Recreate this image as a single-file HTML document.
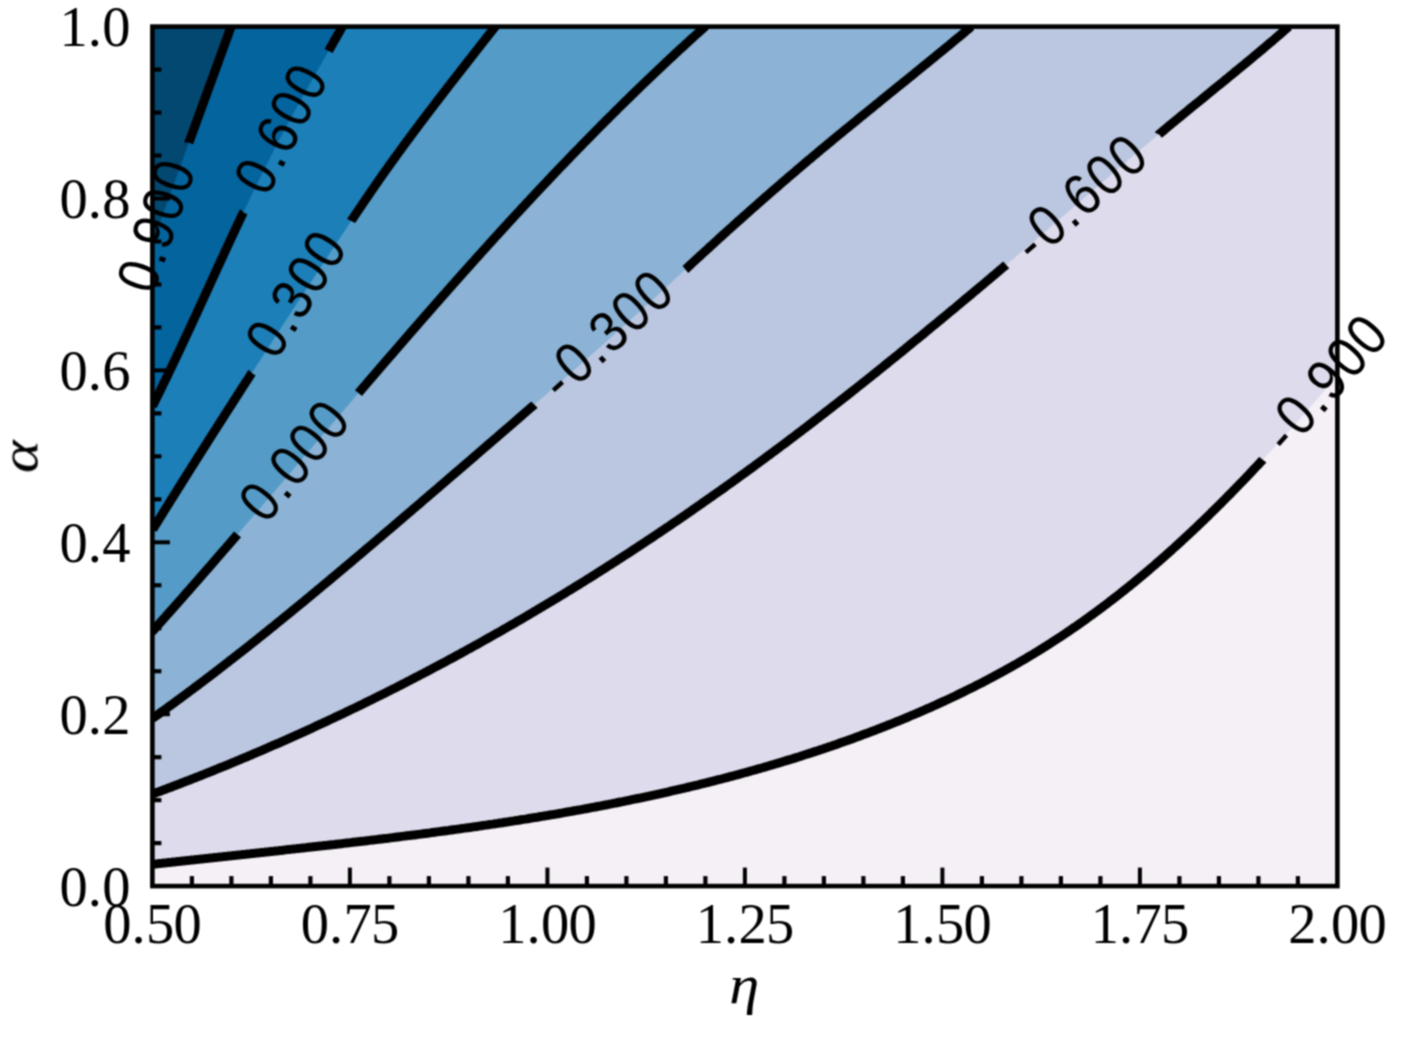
<!DOCTYPE html><html><head><meta charset="utf-8"><style>html,body{margin:0;padding:0;background:#fff;overflow:hidden;width:1402px;height:1040px;}svg{display:block;}</style></head><body>
<svg width="1402" height="1040" viewBox="0 0 1402 1040">
<defs><clipPath id="pc"><rect x="152.40" y="26.60" width="1185.00" height="859.50"/></clipPath><filter id="soft" x="0" y="0" width="1402" height="1040" filterUnits="userSpaceOnUse" color-interpolation-filters="sRGB"><feConvolveMatrix order="3" kernelMatrix="1 2.000 1 2.000 4.000 2.000 1 2.000 1" edgeMode="duplicate"/></filter></defs>
<g filter="url(#soft)">
<rect width="1402" height="1040" fill="#fff"/>
<g clip-path="url(#pc)">
<rect x="152.4" y="26.6" width="1185.0" height="859.5" fill="#f5eff6"/>
<polygon points="152.4,864.2 152.8,864.2 155.1,863.9 157.4,863.7 159.7,863.4 162.0,863.2 164.3,862.9 166.7,862.7 169.0,862.4 171.3,862.2 173.6,861.9 175.9,861.7 178.2,861.4 180.6,861.2 182.9,860.9 185.2,860.7 187.5,860.4 189.8,860.2 192.2,859.9 194.5,859.7 196.8,859.4 199.1,859.2 201.5,858.9 203.8,858.7 206.1,858.4 208.4,858.2 210.8,857.9 213.1,857.7 215.4,857.4 217.7,857.2 220.1,856.9 222.4,856.7 224.7,856.4 227.0,856.2 229.4,855.9 231.7,855.7 234.0,855.4 236.3,855.2 238.7,854.9 241.0,854.7 243.3,854.4 245.7,854.2 248.0,853.9 250.3,853.7 252.7,853.4 255.0,853.2 257.3,852.9 259.6,852.7 262.0,852.4 264.3,852.2 266.6,851.9 269.0,851.7 271.3,851.4 273.6,851.2 276.0,850.9 278.3,850.7 280.6,850.4 283.0,850.2 285.3,849.9 287.6,849.6 290.0,849.4 292.3,849.1 294.6,848.9 297.0,848.6 299.3,848.4 301.6,848.1 304.0,847.9 306.3,847.6 308.6,847.3 311.0,847.1 313.3,846.8 315.7,846.6 318.0,846.3 320.3,846.0 322.7,845.8 325.0,845.5 327.3,845.3 329.7,845.0 332.0,844.7 334.3,844.5 336.7,844.2 339.0,843.9 341.3,843.7 343.7,843.4 346.0,843.1 348.4,842.9 350.7,842.6 353.0,842.3 355.4,842.1 357.7,841.8 360.0,841.5 362.4,841.2 364.7,841.0 367.0,840.7 369.4,840.4 371.7,840.1 374.1,839.9 376.4,839.6 378.7,839.3 381.1,839.0 383.4,838.7 385.7,838.4 388.1,838.2 390.4,837.9 392.7,837.6 395.1,837.3 397.4,837.0 399.7,836.7 402.1,836.4 404.4,836.1 406.8,835.8 409.1,835.6 411.4,835.3 413.8,835.0 416.1,834.7 418.4,834.4 420.8,834.1 423.1,833.8 425.4,833.5 427.8,833.2 430.1,832.9 432.4,832.5 434.8,832.2 437.1,831.9 439.4,831.6 441.8,831.3 444.1,831.0 446.4,830.7 448.8,830.4 451.1,830.0 453.4,829.7 455.8,829.4 458.1,829.1 460.4,828.8 462.8,828.4 465.1,828.1 467.4,827.8 469.8,827.5 472.1,827.1 474.4,826.8 476.7,826.5 479.1,826.1 481.4,825.8 483.7,825.4 486.1,825.1 488.4,824.8 490.7,824.4 493.0,824.1 495.4,823.7 497.7,823.4 500.0,823.0 502.3,822.7 504.7,822.3 507.0,822.0 509.3,821.6 511.6,821.2 514.0,820.9 516.3,820.5 518.6,820.2 520.9,819.8 523.3,819.4 525.6,819.1 527.9,818.7 530.2,818.3 532.6,817.9 534.9,817.5 537.2,817.2 539.5,816.8 541.8,816.4 544.2,816.0 546.5,815.6 548.8,815.2 551.1,814.8 553.4,814.5 555.7,814.1 558.1,813.7 560.4,813.3 562.7,812.9 565.0,812.4 567.3,812.0 569.6,811.6 572.0,811.2 574.3,810.8 576.6,810.4 578.9,810.0 581.2,809.6 583.5,809.1 585.8,808.7 588.1,808.3 590.4,807.8 592.8,807.4 595.1,807.0 597.4,806.5 599.7,806.1 602.0,805.7 604.3,805.2 606.6,804.8 608.9,804.3 611.2,803.9 613.5,803.4 615.8,803.0 618.1,802.5 620.4,802.0 622.7,801.6 625.0,801.1 627.3,800.6 629.6,800.2 631.9,799.7 634.2,799.2 636.5,798.7 638.8,798.3 641.1,797.8 643.4,797.3 645.7,796.8 648.0,796.3 650.3,795.8 652.6,795.3 654.9,794.8 657.2,794.3 659.5,793.8 661.7,793.3 664.0,792.8 666.3,792.3 668.6,791.8 670.9,791.2 673.2,790.7 675.5,790.2 677.8,789.7 680.0,789.1 682.3,788.6 684.6,788.1 686.9,787.5 689.2,787.0 691.4,786.4 693.7,785.9 696.0,785.3 698.3,784.8 700.6,784.2 702.8,783.7 705.1,783.1 707.4,782.5 709.7,782.0 711.9,781.4 714.2,780.8 716.5,780.2 718.7,779.6 721.0,779.1 723.3,778.5 725.6,777.9 727.8,777.3 730.1,776.7 732.4,776.1 734.6,775.5 736.9,774.9 739.1,774.3 741.4,773.6 743.7,773.0 745.9,772.4 748.2,771.8 750.4,771.1 752.7,770.5 755.0,769.9 757.2,769.2 759.5,768.6 761.7,768.0 764.0,767.3 766.2,766.7 768.5,766.0 770.7,765.3 773.0,764.7 775.2,764.0 777.5,763.3 779.7,762.7 781.9,762.0 784.2,761.3 786.4,760.6 788.7,759.9 790.9,759.3 793.2,758.6 795.4,757.9 797.6,757.2 799.9,756.5 802.1,755.7 804.3,755.0 806.6,754.3 808.8,753.6 811.0,752.9 813.3,752.1 815.5,751.4 817.7,750.7 819.9,749.9 822.2,749.2 824.4,748.4 826.6,747.7 828.8,746.9 831.1,746.2 833.3,745.4 835.5,744.7 837.7,743.9 839.9,743.1 842.1,742.3 844.4,741.5 846.6,740.8 848.8,740.0 851.0,739.2 853.2,738.4 855.4,737.6 857.6,736.8 859.8,736.0 862.0,735.1 864.2,734.3 866.4,733.5 868.6,732.7 870.8,731.8 873.0,731.0 875.2,730.2 877.4,729.3 879.6,728.5 881.8,727.6 884.0,726.8 886.2,725.9 888.3,725.0 890.5,724.2 892.7,723.3 894.9,722.4 897.1,721.5 899.3,720.7 901.4,719.8 903.6,718.9 905.8,718.0 907.9,717.1 910.1,716.1 912.3,715.2 914.4,714.3 916.6,713.4 918.8,712.5 920.9,711.5 923.1,710.6 925.2,709.7 927.4,708.7 929.5,707.8 931.7,706.8 933.8,705.8 936.0,704.9 938.1,703.9 940.2,702.9 942.4,701.9 944.5,701.0 946.6,700.0 948.8,699.0 950.9,698.0 953.0,697.0 955.2,696.0 957.3,694.9 959.4,693.9 961.5,692.9 963.6,691.9 965.7,690.8 967.8,689.8 969.9,688.8 972.0,687.7 974.1,686.7 976.2,685.6 978.3,684.5 980.4,683.5 982.5,682.4 984.6,681.3 986.7,680.2 988.7,679.1 990.8,678.0 992.9,676.9 994.9,675.8 997.0,674.7 999.1,673.6 1001.1,672.5 1003.2,671.3 1005.2,670.2 1007.3,669.1 1009.3,667.9 1011.4,666.8 1013.4,665.6 1015.5,664.5 1017.5,663.3 1019.5,662.1 1021.6,660.9 1023.6,659.8 1025.6,658.6 1027.6,657.4 1029.6,656.2 1031.6,655.0 1033.7,653.8 1035.7,652.5 1037.7,651.3 1039.6,650.1 1041.6,648.9 1043.6,647.6 1045.6,646.4 1047.6,645.1 1049.6,643.9 1051.5,642.6 1053.5,641.3 1055.5,640.0 1057.4,638.8 1059.4,637.5 1061.4,636.2 1063.3,634.9 1065.3,633.6 1067.2,632.3 1069.1,631.0 1071.1,629.6 1073.0,628.3 1074.9,627.0 1076.9,625.7 1078.8,624.3 1080.7,623.0 1082.6,621.6 1084.5,620.3 1086.4,618.9 1088.3,617.5 1090.2,616.1 1092.1,614.8 1094.0,613.4 1095.9,612.0 1097.8,610.6 1099.7,609.2 1101.6,607.8 1103.4,606.4 1105.3,605.0 1107.2,603.6 1109.0,602.1 1110.9,600.7 1112.8,599.3 1114.6,597.8 1116.5,596.4 1118.3,595.0 1120.2,593.5 1122.0,592.0 1123.8,590.6 1125.7,589.1 1127.5,587.6 1129.3,586.2 1131.1,584.7 1133.0,583.2 1134.8,581.7 1136.6,580.2 1138.4,578.7 1140.2,577.2 1142.0,575.7 1143.8,574.2 1145.6,572.7 1147.4,571.2 1149.2,569.7 1151.0,568.1 1152.8,566.6 1154.6,565.1 1156.3,563.5 1158.1,562.0 1159.9,560.5 1161.7,558.9 1163.4,557.4 1165.2,555.8 1166.9,554.2 1168.7,552.7 1170.5,551.1 1172.2,549.5 1173.9,548.0 1175.7,546.4 1177.4,544.8 1179.2,543.2 1180.9,541.6 1182.6,540.0 1184.4,538.4 1186.1,536.8 1187.8,535.2 1189.5,533.6 1191.3,532.0 1193.0,530.4 1194.7,528.8 1196.4,527.2 1198.1,525.5 1199.8,523.9 1201.5,522.3 1203.2,520.7 1204.9,519.0 1206.6,517.4 1208.3,515.7 1209.9,514.1 1211.6,512.4 1213.3,510.8 1215.0,509.1 1216.7,507.5 1218.3,505.8 1220.0,504.2 1221.7,502.5 1223.3,500.8 1225.0,499.2 1226.6,497.5 1228.3,495.8 1229.9,494.2 1231.6,492.5 1233.2,490.8 1234.9,489.1 1236.5,487.4 1238.2,485.7 1239.8,484.0 1241.4,482.4 1243.1,480.7 1244.7,479.0 1246.3,477.3 1247.9,475.6 1249.6,473.9 1251.2,472.1 1252.8,470.4 1254.4,468.7 1256.0,467.0 1257.6,465.3 1259.2,463.6 1260.8,461.9 1262.5,460.1 1264.1,458.4 1265.7,456.7 1267.2,455.0 1268.8,453.2 1270.4,451.5 1272.0,449.8 1273.6,448.1 1275.2,446.3 1276.8,444.6 1278.4,442.9 1279.9,441.1 1281.5,439.4 1283.1,437.6 1284.7,435.9 1286.2,434.1 1287.8,432.4 1289.4,430.7 1290.9,428.9 1292.5,427.2 1294.1,425.4 1295.6,423.7 1297.2,421.9 1298.7,420.2 1300.3,418.4 1301.8,416.6 1303.4,414.9 1304.9,413.1 1306.5,411.4 1308.0,409.6 1309.6,407.9 1311.1,406.1 1312.7,404.3 1314.2,402.6 1315.7,400.8 1317.3,399.0 1318.8,397.3 1320.3,395.5 1321.9,393.8 1323.4,392.0 1324.9,390.2 1326.4,388.5 1328.0,386.7 1329.5,384.9 1331.0,383.2 1332.5,381.4 1334.0,379.6 1335.6,377.8 1337.1,376.1 1337.4,375.7 1337.4,26.6 152.4,26.6" fill="#dedcec"/>
<polygon points="152.4,794.1 152.6,794.0 154.9,793.2 157.2,792.3 159.5,791.5 161.8,790.6 164.0,789.7 166.3,788.9 168.6,788.0 170.9,787.2 173.2,786.3 175.5,785.4 177.7,784.6 180.0,783.7 182.3,782.8 184.6,781.9 186.8,781.0 189.1,780.2 191.4,779.3 193.7,778.4 195.9,777.5 198.2,776.6 200.5,775.7 202.7,774.8 205.0,773.9 207.3,773.0 209.5,772.1 211.8,771.2 214.1,770.3 216.3,769.4 218.6,768.4 220.8,767.5 223.1,766.6 225.4,765.7 227.6,764.8 229.9,763.8 232.1,762.9 234.4,762.0 236.6,761.0 238.9,760.1 241.2,759.1 243.4,758.2 245.7,757.3 247.9,756.3 250.2,755.4 252.4,754.4 254.6,753.4 256.9,752.5 259.1,751.5 261.4,750.6 263.6,749.6 265.9,748.6 268.1,747.7 270.3,746.7 272.6,745.7 274.8,744.7 277.1,743.8 279.3,742.8 281.5,741.8 283.8,740.8 286.0,739.8 288.2,738.8 290.4,737.8 292.7,736.8 294.9,735.8 297.1,734.8 299.4,733.8 301.6,732.8 303.8,731.8 306.0,730.8 308.2,729.8 310.5,728.8 312.7,727.8 314.9,726.7 317.1,725.7 319.3,724.7 321.6,723.7 323.8,722.6 326.0,721.6 328.2,720.6 330.4,719.5 332.6,718.5 334.8,717.4 337.0,716.4 339.2,715.4 341.4,714.3 343.7,713.3 345.9,712.2 348.1,711.2 350.3,710.1 352.5,709.0 354.7,708.0 356.9,706.9 359.1,705.8 361.3,704.8 363.5,703.7 365.6,702.6 367.8,701.6 370.0,700.5 372.2,699.4 374.4,698.3 376.6,697.2 378.8,696.1 381.0,695.1 383.2,694.0 385.3,692.9 387.5,691.8 389.7,690.7 391.9,689.6 394.1,688.5 396.3,687.4 398.4,686.3 400.6,685.2 402.8,684.0 405.0,682.9 407.1,681.8 409.3,680.7 411.5,679.6 413.6,678.5 415.8,677.3 418.0,676.2 420.1,675.1 422.3,673.9 424.5,672.8 426.6,671.7 428.8,670.5 431.0,669.4 433.1,668.2 435.3,667.1 437.4,666.0 439.6,664.8 441.7,663.7 443.9,662.5 446.1,661.4 448.2,660.2 450.4,659.0 452.5,657.9 454.7,656.7 456.8,655.5 458.9,654.4 461.1,653.2 463.2,652.0 465.4,650.9 467.5,649.7 469.7,648.5 471.8,647.3 473.9,646.1 476.1,645.0 478.2,643.8 480.3,642.6 482.5,641.4 484.6,640.2 486.7,639.0 488.9,637.8 491.0,636.6 493.1,635.4 495.2,634.2 497.4,633.0 499.5,631.8 501.6,630.6 503.7,629.3 505.9,628.1 508.0,626.9 510.1,625.7 512.2,624.5 514.3,623.3 516.4,622.0 518.6,620.8 520.7,619.6 522.8,618.3 524.9,617.1 527.0,615.9 529.1,614.6 531.2,613.4 533.3,612.2 535.4,610.9 537.5,609.7 539.6,608.4 541.7,607.2 543.8,605.9 545.9,604.7 548.0,603.4 550.1,602.2 552.2,600.9 554.3,599.6 556.4,598.4 558.5,597.1 560.5,595.8 562.6,594.6 564.7,593.3 566.8,592.0 568.9,590.7 571.0,589.5 573.0,588.2 575.1,586.9 577.2,585.6 579.3,584.3 581.4,583.0 583.4,581.8 585.5,580.5 587.6,579.2 589.6,577.9 591.7,576.6 593.8,575.3 595.8,574.0 597.9,572.7 600.0,571.4 602.0,570.1 604.1,568.8 606.2,567.4 608.2,566.1 610.3,564.8 612.3,563.5 614.4,562.2 616.4,560.9 618.5,559.5 620.5,558.2 622.6,556.9 624.6,555.6 626.7,554.2 628.7,552.9 630.8,551.6 632.8,550.2 634.9,548.9 636.9,547.6 638.9,546.2 641.0,544.9 643.0,543.5 645.0,542.2 647.1,540.8 649.1,539.5 651.1,538.1 653.2,536.8 655.2,535.4 657.2,534.1 659.3,532.7 661.3,531.3 663.3,530.0 665.3,528.6 667.4,527.2 669.4,525.9 671.4,524.5 673.4,523.1 675.4,521.8 677.5,520.4 679.5,519.0 681.5,517.6 683.5,516.2 685.5,514.9 687.5,513.5 689.5,512.1 691.5,510.7 693.5,509.3 695.5,507.9 697.5,506.5 699.5,505.1 701.5,503.7 703.5,502.3 705.5,500.9 707.5,499.5 709.5,498.1 711.5,496.7 713.5,495.3 715.5,493.9 717.5,492.5 719.5,491.1 721.5,489.7 723.5,488.3 725.5,486.8 727.5,485.4 729.4,484.0 731.4,482.6 733.4,481.2 735.4,479.7 737.4,478.3 739.3,476.9 741.3,475.4 743.3,474.0 745.3,472.6 747.3,471.1 749.2,469.7 751.2,468.3 753.2,466.8 755.1,465.4 757.1,463.9 759.1,462.5 761.0,461.0 763.0,459.6 765.0,458.1 766.9,456.7 768.9,455.2 770.9,453.8 772.8,452.3 774.8,450.9 776.7,449.4 778.7,448.0 780.6,446.5 782.6,445.0 784.6,443.6 786.5,442.1 788.5,440.6 790.4,439.2 792.4,437.7 794.3,436.2 796.2,434.7 798.2,433.3 800.1,431.8 802.1,430.3 804.0,428.8 806.0,427.3 807.9,425.9 809.8,424.4 811.8,422.9 813.7,421.4 815.6,419.9 817.6,418.4 819.5,416.9 821.4,415.4 823.4,413.9 825.3,412.4 827.2,410.9 829.2,409.4 831.1,407.9 833.0,406.4 834.9,404.9 836.9,403.4 838.8,401.9 840.7,400.4 842.6,398.9 844.6,397.4 846.5,395.9 848.4,394.4 850.3,392.9 852.2,391.4 854.1,389.8 856.1,388.3 858.0,386.8 859.9,385.3 861.8,383.8 863.7,382.2 865.6,380.7 867.5,379.2 869.4,377.7 871.3,376.2 873.2,374.6 875.2,373.1 877.1,371.6 879.0,370.0 880.9,368.5 882.8,367.0 884.7,365.4 886.6,363.9 888.5,362.4 890.4,360.8 892.3,359.3 894.2,357.8 896.1,356.2 898.0,354.7 899.9,353.1 901.8,351.6 903.7,350.1 905.6,348.5 907.4,347.0 909.3,345.4 911.2,343.9 913.1,342.3 915.0,340.8 916.9,339.3 918.8,337.7 920.7,336.2 922.6,334.6 924.5,333.1 926.3,331.5 928.2,329.9 930.1,328.4 932.0,326.8 933.9,325.3 935.8,323.7 937.7,322.2 939.5,320.6 941.4,319.1 943.3,317.5 945.2,316.0 947.1,314.4 948.9,312.8 950.8,311.3 952.7,309.7 954.6,308.2 956.5,306.6 958.3,305.0 960.2,303.5 962.1,301.9 964.0,300.3 965.8,298.8 967.7,297.2 969.6,295.6 971.5,294.1 973.3,292.5 975.2,290.9 977.1,289.4 979.0,287.8 980.8,286.2 982.7,284.7 984.6,283.1 986.4,281.5 988.3,280.0 990.2,278.4 992.0,276.8 993.9,275.2 995.8,273.7 997.6,272.1 999.5,270.5 1001.4,268.9 1003.2,267.4 1005.1,265.8 1007.0,264.2 1008.8,262.6 1010.7,261.1 1012.5,259.5 1014.4,257.9 1016.3,256.3 1018.1,254.7 1020.0,253.2 1021.9,251.6 1023.7,250.0 1025.6,248.4 1027.4,246.8 1029.3,245.3 1031.1,243.7 1033.0,242.1 1034.9,240.5 1036.7,238.9 1038.6,237.3 1040.4,235.7 1042.3,234.2 1044.1,232.6 1046.0,231.0 1047.8,229.4 1049.7,227.8 1051.5,226.2 1053.4,224.6 1055.2,223.0 1057.1,221.4 1058.9,219.8 1060.8,218.2 1062.6,216.6 1064.5,215.1 1066.3,213.5 1068.2,211.9 1070.0,210.3 1071.9,208.7 1073.7,207.1 1075.6,205.5 1077.4,203.9 1079.2,202.3 1081.1,200.7 1082.9,199.1 1084.8,197.5 1086.6,195.9 1088.5,194.3 1090.3,192.7 1092.2,191.1 1094.0,189.5 1095.9,187.9 1097.7,186.3 1099.6,184.8 1101.4,183.2 1103.3,181.6 1105.1,180.0 1107.0,178.4 1108.8,176.8 1110.7,175.2 1112.5,173.6 1114.4,172.0 1116.2,170.4 1118.1,168.9 1119.9,167.3 1121.8,165.7 1123.6,164.1 1125.5,162.5 1127.3,160.9 1129.2,159.3 1131.0,157.8 1132.9,156.2 1134.8,154.6 1136.6,153.0 1138.5,151.5 1140.4,149.9 1142.2,148.3 1144.1,146.7 1145.9,145.2 1147.8,143.6 1149.7,142.0 1151.6,140.5 1153.4,138.9 1155.3,137.3 1157.2,135.8 1159.0,134.2 1160.9,132.7 1162.8,131.1 1164.7,129.6 1166.5,128.0 1168.4,126.4 1170.3,124.9 1172.2,123.3 1174.1,121.8 1175.9,120.2 1177.8,118.7 1179.7,117.1 1181.6,115.6 1183.5,114.0 1185.4,112.5 1187.3,111.0 1189.1,109.4 1191.0,107.9 1192.9,106.3 1194.8,104.8 1196.7,103.2 1198.6,101.7 1200.5,100.2 1202.4,98.6 1204.3,97.1 1206.2,95.5 1208.0,94.0 1209.9,92.5 1211.8,90.9 1213.7,89.4 1215.6,87.8 1217.5,86.3 1219.4,84.8 1221.3,83.2 1223.2,81.7 1225.1,80.1 1227.0,78.6 1228.8,77.1 1230.7,75.5 1232.6,74.0 1234.5,72.4 1236.4,70.9 1238.3,69.3 1240.2,67.8 1242.0,66.2 1243.9,64.7 1245.8,63.1 1247.7,61.6 1249.6,60.0 1251.5,58.5 1253.3,56.9 1255.2,55.3 1257.1,53.8 1258.9,52.2 1260.8,50.6 1262.7,49.1 1264.6,47.5 1266.4,45.9 1268.3,44.3 1270.1,42.8 1272.0,41.2 1273.9,39.6 1275.7,38.0 1277.6,36.4 1279.4,34.8 1281.3,33.2 1283.1,31.6 1284.9,30.0 1286.8,28.4 1288.6,26.8 1288.9,26.6 152.4,26.6" fill="#bbc7e0"/>
<polygon points="152.4,718.5 153.9,717.4 155.5,716.3 157.0,715.2 158.6,714.1 160.1,713.0 161.6,711.9 163.2,710.8 164.7,709.7 166.3,708.6 167.8,707.4 169.3,706.3 170.9,705.2 172.4,704.1 174.0,703.0 175.5,701.8 177.0,700.7 178.5,699.6 180.1,698.5 181.6,697.3 183.1,696.2 184.7,695.1 186.2,693.9 187.7,692.8 189.2,691.7 190.8,690.5 192.3,689.4 193.8,688.3 195.3,687.1 196.8,686.0 198.4,684.8 199.9,683.7 201.4,682.6 202.9,681.4 204.4,680.3 205.9,679.1 207.5,678.0 209.0,676.8 210.5,675.7 212.0,674.5 213.5,673.4 215.0,672.2 216.5,671.1 218.0,669.9 219.5,668.7 221.0,667.6 222.5,666.4 224.0,665.3 225.5,664.1 227.0,662.9 228.5,661.8 230.0,660.6 231.5,659.4 233.0,658.3 234.5,657.1 236.0,655.9 237.5,654.8 239.0,653.6 240.5,652.4 242.0,651.3 243.5,650.1 245.0,648.9 246.5,647.7 248.0,646.6 249.5,645.4 250.9,644.2 252.4,643.0 253.9,641.8 255.4,640.7 256.9,639.5 258.4,638.3 259.9,637.1 261.3,635.9 262.8,634.7 264.3,633.5 265.8,632.4 267.3,631.2 268.7,630.0 270.2,628.8 271.7,627.6 273.2,626.4 274.7,625.2 276.1,624.0 277.6,622.8 279.1,621.6 280.6,620.4 282.0,619.2 283.5,618.0 285.0,616.8 286.5,615.6 287.9,614.4 289.4,613.2 290.9,612.0 292.3,610.8 293.8,609.6 295.3,608.4 296.7,607.2 298.2,606.0 299.7,604.8 301.1,603.6 302.6,602.4 304.1,601.2 305.5,600.0 307.0,598.8 308.5,597.6 309.9,596.4 311.4,595.1 312.9,593.9 314.3,592.7 315.8,591.5 317.2,590.3 318.7,589.1 320.2,587.9 321.6,586.7 323.1,585.4 324.5,584.2 326.0,583.0 327.5,581.8 328.9,580.6 330.4,579.4 331.8,578.1 333.3,576.9 334.7,575.7 336.2,574.5 337.7,573.3 339.1,572.0 340.6,570.8 342.0,569.6 343.5,568.4 344.9,567.1 346.4,565.9 347.8,564.7 349.3,563.5 350.7,562.3 352.2,561.0 353.6,559.8 355.1,558.6 356.5,557.4 358.0,556.1 359.4,554.9 360.9,553.7 362.3,552.4 363.8,551.2 365.2,550.0 366.7,548.8 368.1,547.5 369.6,546.3 371.0,545.1 372.5,543.8 373.9,542.6 375.4,541.4 376.8,540.2 378.3,538.9 379.7,537.7 381.2,536.5 382.6,535.2 384.0,534.0 385.5,532.8 386.9,531.5 388.4,530.3 389.8,529.1 391.3,527.8 392.7,526.6 394.2,525.4 395.6,524.1 397.1,522.9 398.5,521.7 399.9,520.4 401.4,519.2 402.8,518.0 404.3,516.7 405.7,515.5 407.2,514.3 408.6,513.0 410.1,511.8 411.5,510.6 412.9,509.3 414.4,508.1 415.8,506.9 417.3,505.6 418.7,504.4 420.2,503.2 421.6,501.9 423.0,500.7 424.5,499.4 425.9,498.2 427.4,497.0 428.8,495.7 430.2,494.5 431.7,493.3 433.1,492.0 434.6,490.8 436.0,489.6 437.5,488.3 438.9,487.1 440.3,485.8 441.8,484.6 443.2,483.4 444.7,482.1 446.1,480.9 447.5,479.7 449.0,478.4 450.4,477.2 451.9,475.9 453.3,474.7 454.7,473.5 456.2,472.2 457.6,471.0 459.1,469.8 460.5,468.5 461.9,467.3 463.4,466.0 464.8,464.8 466.3,463.6 467.7,462.3 469.1,461.1 470.6,459.8 472.0,458.6 473.5,457.4 474.9,456.1 476.3,454.9 477.8,453.6 479.2,452.4 480.6,451.2 482.1,449.9 483.5,448.7 485.0,447.4 486.4,446.2 487.8,445.0 489.3,443.7 490.7,442.5 492.1,441.2 493.6,440.0 495.0,438.7 496.5,437.5 497.9,436.3 499.3,435.0 500.8,433.8 502.2,432.5 503.6,431.3 505.1,430.1 506.5,428.8 507.9,427.6 509.4,426.3 510.8,425.1 512.3,423.8 513.7,422.6 515.1,421.4 516.6,420.1 518.0,418.9 519.4,417.6 520.9,416.4 522.3,415.1 523.7,413.9 525.2,412.6 526.6,411.4 528.0,410.2 529.5,408.9 530.9,407.7 532.3,406.4 533.8,405.2 535.2,403.9 536.6,402.7 538.1,401.4 539.5,400.2 540.9,399.0 542.4,397.7 543.8,396.5 545.2,395.2 546.7,394.0 548.1,392.7 549.5,391.5 551.0,390.2 552.4,389.0 553.8,387.7 555.3,386.5 556.7,385.2 558.1,384.0 559.6,382.7 561.0,381.5 562.4,380.2 563.8,379.0 565.3,377.8 566.7,376.5 568.1,375.3 569.6,374.0 571.0,372.8 572.4,371.5 573.9,370.3 575.3,369.0 576.7,367.7 578.1,366.5 579.6,365.2 581.0,364.0 582.4,362.7 583.8,361.5 585.3,360.2 586.7,359.0 588.1,357.7 589.5,356.5 591.0,355.2 592.4,354.0 593.8,352.7 595.2,351.4 596.7,350.2 598.1,348.9 599.5,347.7 600.9,346.4 602.3,345.2 603.8,343.9 605.2,342.6 606.6,341.4 608.0,340.1 609.4,338.9 610.9,337.6 612.3,336.3 613.7,335.1 615.1,333.8 616.5,332.5 617.9,331.3 619.3,330.0 620.8,328.7 622.2,327.5 623.6,326.2 625.0,324.9 626.4,323.7 627.8,322.4 629.2,321.1 630.6,319.9 632.0,318.6 633.4,317.3 634.9,316.0 636.3,314.8 637.7,313.5 639.1,312.2 640.5,310.9 641.9,309.7 643.3,308.4 644.7,307.1 646.1,305.8 647.5,304.6 648.9,303.3 650.3,302.0 651.7,300.7 653.1,299.4 654.5,298.1 655.9,296.9 657.3,295.6 658.7,294.3 660.1,293.0 661.4,291.7 662.8,290.4 664.2,289.1 665.6,287.8 667.0,286.6 668.4,285.3 669.8,284.0 671.2,282.7 672.6,281.4 674.0,280.1 675.3,278.8 676.7,277.5 678.1,276.2 679.5,274.9 680.9,273.6 682.3,272.3 683.7,271.1 685.1,269.8 686.5,268.5 687.8,267.2 689.2,265.9 690.6,264.6 692.0,263.3 693.4,262.0 694.8,260.7 696.2,259.4 697.6,258.2 699.0,256.9 700.4,255.6 701.8,254.3 703.2,253.0 704.6,251.7 706.0,250.5 707.4,249.2 708.8,247.9 710.2,246.6 711.6,245.3 713.0,244.1 714.4,242.8 715.8,241.5 717.2,240.2 718.6,238.9 720.0,237.7 721.4,236.4 722.8,235.1 724.2,233.8 725.6,232.6 727.0,231.3 728.4,230.0 729.9,228.8 731.3,227.5 732.7,226.2 734.1,224.9 735.5,223.7 736.9,222.4 738.3,221.1 739.8,219.9 741.2,218.6 742.6,217.4 744.0,216.1 745.4,214.8 746.8,213.6 748.3,212.3 749.7,211.0 751.1,209.8 752.5,208.5 754.0,207.3 755.4,206.0 756.8,204.8 758.2,203.5 759.7,202.2 761.1,201.0 762.5,199.7 763.9,198.5 765.4,197.2 766.8,196.0 768.2,194.7 769.7,193.5 771.1,192.2 772.5,191.0 774.0,189.7 775.4,188.5 776.8,187.3 778.3,186.0 779.7,184.8 781.1,183.5 782.6,182.3 784.0,181.0 785.5,179.8 786.9,178.6 788.3,177.3 789.8,176.1 791.2,174.9 792.7,173.6 794.1,172.4 795.6,171.2 797.0,169.9 798.4,168.7 799.9,167.5 801.3,166.2 802.8,165.0 804.2,163.8 805.7,162.6 807.1,161.3 808.6,160.1 810.0,158.9 811.5,157.7 813.0,156.4 814.4,155.2 815.9,154.0 817.3,152.8 818.8,151.6 820.2,150.3 821.7,149.1 823.2,147.9 824.6,146.7 826.1,145.5 827.5,144.3 829.0,143.1 830.5,141.9 831.9,140.6 833.4,139.4 834.8,138.2 836.3,137.0 837.8,135.8 839.2,134.6 840.7,133.4 842.2,132.2 843.6,131.0 845.1,129.8 846.6,128.6 848.0,127.4 849.5,126.2 851.0,125.0 852.5,123.8 853.9,122.6 855.4,121.4 856.9,120.2 858.3,118.9 859.8,117.7 861.3,116.5 862.7,115.4 864.2,114.2 865.7,113.0 867.2,111.8 868.6,110.6 870.1,109.4 871.6,108.2 873.1,107.0 874.5,105.8 876.0,104.6 877.5,103.4 879.0,102.2 880.4,101.0 881.9,99.8 883.4,98.6 884.9,97.4 886.3,96.2 887.8,95.0 889.3,93.8 890.8,92.6 892.2,91.4 893.7,90.2 895.2,89.0 896.7,87.8 898.1,86.6 899.6,85.4 901.1,84.2 902.6,83.0 904.0,81.9 905.5,80.7 907.0,79.5 908.5,78.3 909.9,77.1 911.4,75.9 912.9,74.7 914.4,73.5 915.8,72.3 917.3,71.1 918.8,69.9 920.2,68.7 921.7,67.5 923.2,66.3 924.7,65.1 926.1,63.9 927.6,62.7 929.1,61.5 930.6,60.3 932.0,59.1 933.5,57.9 935.0,56.7 936.4,55.5 937.9,54.3 939.4,53.1 940.8,51.9 942.3,50.7 943.8,49.5 945.3,48.3 946.7,47.1 948.2,45.9 949.7,44.7 951.1,43.4 952.6,42.2 954.0,41.0 955.5,39.8 957.0,38.6 958.4,37.4 959.9,36.2 961.4,35.0 962.8,33.8 964.3,32.5 965.7,31.3 967.2,30.1 968.7,28.9 970.1,27.7 971.4,26.6 152.4,26.6" fill="#8cb3d5"/>
<polygon points="152.4,631.4 152.5,631.3 153.5,630.2 154.4,629.1 155.4,628.0 156.4,626.9 157.3,625.9 158.3,624.8 159.3,623.7 160.2,622.6 161.2,621.5 162.2,620.5 163.1,619.4 164.1,618.3 165.1,617.2 166.0,616.1 167.0,615.0 167.9,614.0 168.9,612.9 169.9,611.8 170.8,610.7 171.8,609.6 172.8,608.5 173.7,607.5 174.7,606.4 175.6,605.3 176.6,604.2 177.6,603.1 178.5,602.0 179.5,600.9 180.4,599.9 181.4,598.8 182.4,597.7 183.3,596.6 184.3,595.5 185.2,594.4 186.2,593.3 187.1,592.2 188.1,591.2 189.1,590.1 190.0,589.0 191.0,587.9 191.9,586.8 192.9,585.7 193.8,584.6 194.8,583.5 195.8,582.4 196.7,581.4 197.7,580.3 198.6,579.2 199.6,578.1 200.5,577.0 201.5,575.9 202.4,574.8 203.4,573.7 204.3,572.6 205.3,571.5 206.3,570.4 207.2,569.3 208.2,568.3 209.1,567.2 210.1,566.1 211.0,565.0 212.0,563.9 212.9,562.8 213.9,561.7 214.8,560.6 215.8,559.5 216.7,558.4 217.7,557.3 218.6,556.2 219.6,555.1 220.5,554.0 221.5,552.9 222.4,551.8 223.4,550.7 224.3,549.6 225.3,548.6 226.2,547.5 227.2,546.4 228.1,545.3 229.1,544.2 230.0,543.1 231.0,542.0 231.9,540.9 232.9,539.8 233.8,538.7 234.8,537.6 235.7,536.5 236.7,535.4 237.6,534.3 238.6,533.2 239.5,532.1 240.4,531.0 241.4,529.9 242.3,528.8 243.3,527.7 244.2,526.6 245.2,525.5 246.1,524.4 247.1,523.3 248.0,522.2 249.0,521.1 249.9,520.0 250.9,518.9 251.8,517.8 252.7,516.7 253.7,515.6 254.6,514.5 255.6,513.4 256.5,512.3 257.5,511.2 258.4,510.1 259.4,509.0 260.3,507.9 261.3,506.8 262.2,505.7 263.1,504.6 264.1,503.5 265.0,502.4 266.0,501.3 266.9,500.2 267.9,499.1 268.8,498.0 269.7,496.9 270.7,495.8 271.6,494.7 272.6,493.6 273.5,492.5 274.5,491.4 275.4,490.3 276.4,489.2 277.3,488.1 278.2,487.0 279.2,485.9 280.1,484.8 281.1,483.7 282.0,482.6 283.0,481.5 283.9,480.4 284.8,479.3 285.8,478.2 286.7,477.1 287.7,476.0 288.6,474.9 289.6,473.8 290.5,472.6 291.4,471.5 292.4,470.4 293.3,469.3 294.3,468.2 295.2,467.1 296.1,466.0 297.1,464.9 298.0,463.8 299.0,462.7 299.9,461.6 300.9,460.5 301.8,459.4 302.7,458.3 303.7,457.2 304.6,456.1 305.6,455.0 306.5,453.9 307.5,452.8 308.4,451.7 309.3,450.6 310.3,449.5 311.2,448.4 312.2,447.3 313.1,446.2 314.0,445.1 315.0,444.0 315.9,442.9 316.9,441.8 317.8,440.7 318.8,439.6 319.7,438.4 320.6,437.3 321.6,436.2 322.5,435.1 323.5,434.0 324.4,432.9 325.3,431.8 326.3,430.7 327.2,429.6 328.2,428.5 329.1,427.4 330.1,426.3 331.0,425.2 331.9,424.1 332.9,423.0 333.8,421.9 334.8,420.8 335.7,419.7 336.7,418.6 337.6,417.5 338.5,416.4 339.5,415.3 340.4,414.2 341.4,413.1 342.3,412.0 343.3,410.9 344.2,409.8 345.1,408.7 346.1,407.6 347.0,406.5 348.0,405.4 348.9,404.3 349.9,403.2 350.8,402.1 351.7,401.0 352.7,399.9 353.6,398.8 354.6,397.6 355.5,396.5 356.5,395.4 357.4,394.3 358.3,393.2 359.3,392.1 360.2,391.0 361.2,389.9 362.1,388.8 363.1,387.7 364.0,386.6 365.0,385.5 365.9,384.4 366.9,383.3 367.8,382.2 368.7,381.1 369.7,380.0 370.6,378.9 371.6,377.8 372.5,376.7 373.5,375.6 374.4,374.5 375.4,373.4 376.3,372.3 377.3,371.2 378.2,370.1 379.1,369.0 380.1,367.9 381.0,366.8 382.0,365.7 382.9,364.6 383.9,363.5 384.8,362.4 385.8,361.3 386.7,360.2 387.7,359.1 388.6,358.0 389.6,356.9 390.5,355.8 391.5,354.8 392.4,353.7 393.4,352.6 394.3,351.5 395.3,350.4 396.2,349.3 397.2,348.2 398.1,347.1 399.1,346.0 400.0,344.9 401.0,343.8 401.9,342.7 402.9,341.6 403.8,340.5 404.8,339.4 405.7,338.3 406.7,337.2 407.6,336.1 408.6,335.0 409.5,333.9 410.5,332.8 411.4,331.7 412.4,330.6 413.3,329.5 414.3,328.5 415.2,327.4 416.2,326.3 417.1,325.2 418.1,324.1 419.0,323.0 420.0,321.9 420.9,320.8 421.9,319.7 422.8,318.6 423.8,317.5 424.8,316.4 425.7,315.3 426.7,314.3 427.6,313.2 428.6,312.1 429.5,311.0 430.5,309.9 431.4,308.8 432.4,307.7 433.4,306.6 434.3,305.5 435.3,304.4 436.2,303.3 437.2,302.3 438.1,301.2 439.1,300.1 440.1,299.0 441.0,297.9 442.0,296.8 442.9,295.7 443.9,294.6 444.9,293.6 445.8,292.5 446.8,291.4 447.7,290.3 448.7,289.2 449.7,288.1 450.6,287.0 451.6,286.0 452.5,284.9 453.5,283.8 454.5,282.7 455.4,281.6 456.4,280.5 457.4,279.4 458.3,278.4 459.3,277.3 460.2,276.2 461.2,275.1 462.2,274.0 463.1,272.9 464.1,271.9 465.1,270.8 466.0,269.7 467.0,268.6 468.0,267.5 468.9,266.5 469.9,265.4 470.9,264.3 471.8,263.2 472.8,262.1 473.8,261.1 474.7,260.0 475.7,258.9 476.7,257.8 477.6,256.7 478.6,255.7 479.6,254.6 480.6,253.5 481.5,252.4 482.5,251.4 483.5,250.3 484.4,249.2 485.4,248.1 486.4,247.1 487.4,246.0 488.3,244.9 489.3,243.8 490.3,242.8 491.2,241.7 492.2,240.6 493.2,239.5 494.2,238.5 495.1,237.4 496.1,236.3 497.1,235.2 498.1,234.2 499.0,233.1 500.0,232.0 501.0,231.0 502.0,229.9 503.0,228.8 503.9,227.7 504.9,226.7 505.9,225.6 506.9,224.5 507.9,223.5 508.8,222.4 509.8,221.3 510.8,220.3 511.8,219.2 512.8,218.1 513.7,217.1 514.7,216.0 515.7,214.9 516.7,213.9 517.7,212.8 518.7,211.7 519.6,210.7 520.6,209.6 521.6,208.5 522.6,207.5 523.6,206.4 524.6,205.4 525.6,204.3 526.5,203.2 527.5,202.2 528.5,201.1 529.5,200.1 530.5,199.0 531.5,197.9 532.5,196.9 533.5,195.8 534.4,194.8 535.4,193.7 536.4,192.6 537.4,191.6 538.4,190.5 539.4,189.5 540.4,188.4 541.4,187.4 542.4,186.3 543.4,185.3 544.4,184.2 545.4,183.1 546.4,182.1 547.4,181.0 548.4,180.0 549.4,178.9 550.4,177.9 551.3,176.8 552.3,175.8 553.3,174.7 554.3,173.7 555.3,172.6 556.3,171.6 557.3,170.5 558.3,169.5 559.3,168.4 560.3,167.4 561.4,166.3 562.4,165.3 563.4,164.2 564.4,163.2 565.4,162.1 566.4,161.1 567.4,160.1 568.4,159.0 569.4,158.0 570.4,156.9 571.4,155.9 572.4,154.8 573.4,153.8 574.4,152.8 575.4,151.7 576.4,150.7 577.5,149.6 578.5,148.6 579.5,147.6 580.5,146.5 581.5,145.5 582.5,144.4 583.5,143.4 584.5,142.4 585.5,141.3 586.6,140.3 587.6,139.3 588.6,138.2 589.6,137.2 590.6,136.2 591.6,135.1 592.7,134.1 593.7,133.1 594.7,132.0 595.7,131.0 596.7,130.0 597.8,128.9 598.8,127.9 599.8,126.9 600.8,125.8 601.8,124.8 602.9,123.8 603.9,122.8 604.9,121.7 605.9,120.7 607.0,119.7 608.0,118.7 609.0,117.6 610.0,116.6 611.1,115.6 612.1,114.6 613.1,113.5 614.2,112.5 615.2,111.5 616.2,110.5 617.2,109.5 618.3,108.4 619.3,107.4 620.3,106.4 621.4,105.4 622.4,104.4 623.4,103.3 624.5,102.3 625.5,101.3 626.5,100.3 627.6,99.3 628.6,98.3 629.7,97.2 630.7,96.2 631.7,95.2 632.8,94.2 633.8,93.2 634.8,92.2 635.9,91.2 636.9,90.2 638.0,89.2 639.0,88.1 640.1,87.1 641.1,86.1 642.1,85.1 643.2,84.1 644.2,83.1 645.3,82.1 646.3,81.1 647.4,80.1 648.4,79.1 649.5,78.1 650.5,77.1 651.6,76.1 652.6,75.1 653.7,74.1 654.7,73.1 655.8,72.1 656.8,71.1 657.9,70.1 658.9,69.1 660.0,68.1 661.1,67.1 662.1,66.1 663.2,65.1 664.2,64.1 665.3,63.1 666.3,62.1 667.4,61.1 668.5,60.1 669.5,59.1 670.6,58.1 671.7,57.2 672.7,56.2 673.8,55.2 674.8,54.2 675.9,53.2 677.0,52.2 678.0,51.2 679.1,50.2 680.2,49.2 681.2,48.3 682.3,47.3 683.4,46.3 684.5,45.3 685.5,44.3 686.6,43.3 687.7,42.4 688.7,41.4 689.8,40.4 690.9,39.4 692.0,38.4 693.0,37.5 694.1,36.5 695.2,35.5 696.3,34.5 697.4,33.6 698.4,32.6 699.5,31.6 700.6,30.6 701.7,29.7 702.8,28.7 703.8,27.7 704.9,26.8 705.1,26.6 152.4,26.6" fill="#549cc7"/>
<polygon points="152.4,530.1 152.6,529.8 153.1,528.8 153.7,527.9 154.3,527.0 154.8,526.1 155.4,525.2 156.0,524.2 156.5,523.3 157.1,522.4 157.7,521.5 158.2,520.6 158.8,519.7 159.4,518.7 160.0,517.8 160.5,516.9 161.1,516.0 161.7,515.1 162.2,514.2 162.8,513.3 163.4,512.3 163.9,511.4 164.5,510.5 165.1,509.6 165.6,508.7 166.2,507.8 166.8,506.8 167.4,505.9 167.9,505.0 168.5,504.1 169.1,503.2 169.6,502.3 170.2,501.3 170.8,500.4 171.3,499.5 171.9,498.6 172.5,497.7 173.1,496.8 173.6,495.9 174.2,494.9 174.8,494.0 175.4,493.1 175.9,492.2 176.5,491.3 177.1,490.4 177.6,489.5 178.2,488.5 178.8,487.6 179.4,486.7 179.9,485.8 180.5,484.9 181.1,484.0 181.6,483.1 182.2,482.1 182.8,481.2 183.4,480.3 183.9,479.4 184.5,478.5 185.1,477.6 185.7,476.7 186.2,475.8 186.8,474.8 187.4,473.9 188.0,473.0 188.5,472.1 189.1,471.2 189.7,470.3 190.3,469.4 190.8,468.5 191.4,467.5 192.0,466.6 192.6,465.7 193.1,464.8 193.7,463.9 194.3,463.0 194.9,462.1 195.4,461.2 196.0,460.2 196.6,459.3 197.2,458.4 197.7,457.5 198.3,456.6 198.9,455.7 199.5,454.8 200.0,453.9 200.6,453.0 201.2,452.0 201.8,451.1 202.4,450.2 202.9,449.3 203.5,448.4 204.1,447.5 204.7,446.6 205.2,445.7 205.8,444.8 206.4,443.9 207.0,442.9 207.6,442.0 208.1,441.1 208.7,440.2 209.3,439.3 209.9,438.4 210.4,437.5 211.0,436.6 211.6,435.7 212.2,434.8 212.8,433.8 213.3,432.9 213.9,432.0 214.5,431.1 215.1,430.2 215.7,429.3 216.2,428.4 216.8,427.5 217.4,426.6 218.0,425.7 218.6,424.7 219.1,423.8 219.7,422.9 220.3,422.0 220.9,421.1 221.5,420.2 222.0,419.3 222.6,418.4 223.2,417.5 223.8,416.6 224.4,415.7 224.9,414.8 225.5,413.8 226.1,412.9 226.7,412.0 227.3,411.1 227.9,410.2 228.4,409.3 229.0,408.4 229.6,407.5 230.2,406.6 230.8,405.7 231.3,404.8 231.9,403.9 232.5,403.0 233.1,402.0 233.7,401.1 234.3,400.2 234.8,399.3 235.4,398.4 236.0,397.5 236.6,396.6 237.2,395.7 237.7,394.8 238.3,393.9 238.9,393.0 239.5,392.1 240.1,391.2 240.7,390.3 241.2,389.3 241.8,388.4 242.4,387.5 243.0,386.6 243.6,385.7 244.2,384.8 244.8,383.9 245.3,383.0 245.9,382.1 246.5,381.2 247.1,380.3 247.7,379.4 248.3,378.5 248.8,377.6 249.4,376.7 250.0,375.8 250.6,374.8 251.2,373.9 251.8,373.0 252.3,372.1 252.9,371.2 253.5,370.3 254.1,369.4 254.7,368.5 255.3,367.6 255.9,366.7 256.4,365.8 257.0,364.9 257.6,364.0 258.2,363.1 258.8,362.2 259.4,361.3 260.0,360.4 260.5,359.5 261.1,358.6 261.7,357.6 262.3,356.7 262.9,355.8 263.5,354.9 264.1,354.0 264.6,353.1 265.2,352.2 265.8,351.3 266.4,350.4 267.0,349.5 267.6,348.6 268.2,347.7 268.8,346.8 269.3,345.9 269.9,345.0 270.5,344.1 271.1,343.2 271.7,342.3 272.3,341.4 272.9,340.5 273.4,339.6 274.0,338.7 274.6,337.8 275.2,336.8 275.8,335.9 276.4,335.0 277.0,334.1 277.6,333.2 278.2,332.3 278.7,331.4 279.3,330.5 279.9,329.6 280.5,328.7 281.1,327.8 281.7,326.9 282.3,326.0 282.9,325.1 283.4,324.2 284.0,323.3 284.6,322.4 285.2,321.5 285.8,320.6 286.4,319.7 287.0,318.8 287.6,317.9 288.2,317.0 288.7,316.1 289.3,315.2 289.9,314.3 290.5,313.4 291.1,312.5 291.7,311.6 292.3,310.7 292.9,309.8 293.5,308.9 294.0,308.0 294.6,307.0 295.2,306.1 295.8,305.2 296.4,304.3 297.0,303.4 297.6,302.5 298.2,301.6 298.8,300.7 299.3,299.8 299.9,298.9 300.5,298.0 301.1,297.1 301.7,296.2 302.3,295.3 302.9,294.4 303.5,293.5 304.1,292.6 304.7,291.7 305.2,290.8 305.8,289.9 306.4,289.0 307.0,288.1 307.6,287.2 308.2,286.3 308.8,285.4 309.4,284.5 310.0,283.6 310.6,282.7 311.1,281.8 311.7,280.9 312.3,280.0 312.9,279.1 313.5,278.2 314.1,277.3 314.7,276.4 315.3,275.5 315.9,274.6 316.5,273.7 317.1,272.8 317.6,271.9 318.2,271.0 318.8,270.1 319.4,269.2 320.0,268.3 320.6,267.4 321.2,266.5 321.8,265.6 322.4,264.7 323.0,263.8 323.6,262.9 324.1,262.0 324.7,261.1 325.3,260.2 325.9,259.3 326.5,258.4 327.1,257.5 327.7,256.6 328.3,255.7 328.9,254.8 329.5,253.9 330.1,253.0 330.7,252.1 331.2,251.2 331.8,250.3 332.4,249.4 333.0,248.5 333.6,247.6 334.2,246.7 334.8,245.8 335.4,244.9 336.0,244.0 336.6,243.1 337.2,242.2 337.8,241.3 338.4,240.4 338.9,239.5 339.5,238.6 340.1,237.7 340.7,236.8 341.3,235.9 341.9,235.0 342.5,234.1 343.1,233.2 343.7,232.3 344.3,231.4 344.9,230.5 345.5,229.6 346.1,228.7 346.7,227.8 347.3,226.9 347.9,226.0 348.4,225.1 349.0,224.2 349.6,223.3 350.2,222.4 350.8,221.5 351.4,220.6 352.0,219.7 352.6,218.8 353.2,217.9 353.8,217.0 354.4,216.1 355.0,215.2 355.6,214.3 356.2,213.4 356.8,212.5 357.4,211.6 358.0,210.7 358.6,209.9 359.2,209.0 359.8,208.1 360.4,207.2 361.0,206.3 361.6,205.4 362.2,204.5 362.8,203.6 363.4,202.7 364.0,201.8 364.6,200.9 365.2,200.0 365.9,199.1 366.5,198.3 367.1,197.4 367.7,196.5 368.3,195.6 368.9,194.7 369.5,193.8 370.1,192.9 370.7,192.0 371.3,191.1 371.9,190.3 372.5,189.4 373.2,188.5 373.8,187.6 374.4,186.7 375.0,185.8 375.6,184.9 376.2,184.0 376.8,183.2 377.4,182.3 378.1,181.4 378.7,180.5 379.3,179.6 379.9,178.7 380.5,177.9 381.2,177.0 381.8,176.1 382.4,175.2 383.0,174.3 383.6,173.5 384.3,172.6 384.9,171.7 385.5,170.8 386.1,169.9 386.7,169.1 387.4,168.2 388.0,167.3 388.6,166.4 389.2,165.5 389.9,164.7 390.5,163.8 391.1,162.9 391.8,162.0 392.4,161.2 393.0,160.3 393.6,159.4 394.3,158.5 394.9,157.7 395.5,156.8 396.2,155.9 396.8,155.1 397.4,154.2 398.1,153.3 398.7,152.4 399.3,151.6 400.0,150.7 400.6,149.8 401.2,149.0 401.9,148.1 402.5,147.2 403.2,146.3 403.8,145.5 404.4,144.6 405.1,143.7 405.7,142.9 406.3,142.0 407.0,141.1 407.6,140.3 408.3,139.4 408.9,138.5 409.6,137.7 410.2,136.8 410.8,135.9 411.5,135.1 412.1,134.2 412.8,133.3 413.4,132.5 414.1,131.6 414.7,130.8 415.3,129.9 416.0,129.0 416.6,128.2 417.3,127.3 417.9,126.4 418.6,125.6 419.2,124.7 419.9,123.8 420.5,123.0 421.2,122.1 421.8,121.3 422.5,120.4 423.1,119.5 423.8,118.7 424.4,117.8 425.1,117.0 425.7,116.1 426.4,115.2 427.0,114.4 427.7,113.5 428.3,112.7 429.0,111.8 429.6,110.9 430.3,110.1 431.0,109.2 431.6,108.4 432.3,107.5 432.9,106.7 433.6,105.8 434.2,104.9 434.9,104.1 435.5,103.2 436.2,102.4 436.8,101.5 437.5,100.7 438.2,99.8 438.8,99.0 439.5,98.1 440.1,97.2 440.8,96.4 441.5,95.5 442.1,94.7 442.8,93.8 443.4,93.0 444.1,92.1 444.7,91.3 445.4,90.4 446.1,89.6 446.7,88.7 447.4,87.9 448.0,87.0 448.7,86.1 449.4,85.3 450.0,84.4 450.7,83.6 451.3,82.7 452.0,81.9 452.7,81.0 453.3,80.2 454.0,79.3 454.7,78.5 455.3,77.6 456.0,76.8 456.6,75.9 457.3,75.1 458.0,74.2 458.6,73.4 459.3,72.5 460.0,71.7 460.6,70.8 461.3,70.0 462.0,69.1 462.6,68.3 463.3,67.4 463.9,66.6 464.6,65.7 465.3,64.9 465.9,64.0 466.6,63.2 467.3,62.3 467.9,61.5 468.6,60.6 469.3,59.8 469.9,58.9 470.6,58.1 471.3,57.2 471.9,56.4 472.6,55.5 473.2,54.7 473.9,53.8 474.6,53.0 475.2,52.1 475.9,51.3 476.6,50.4 477.2,49.6 477.9,48.7 478.6,47.9 479.2,47.0 479.9,46.2 480.6,45.3 481.2,44.5 481.9,43.6 482.6,42.8 483.2,41.9 483.9,41.1 484.6,40.2 485.2,39.4 485.9,38.5 486.6,37.7 487.2,36.8 487.9,36.0 488.6,35.1 489.2,34.3 489.9,33.5 490.5,32.6 491.2,31.8 491.9,30.9 492.5,30.1 493.2,29.2 493.9,28.4 494.5,27.5 495.2,26.7 495.3,26.6 152.4,26.6" fill="#1c7fb8"/>
<polygon points="152.4,406.3 152.6,405.9 152.9,405.2 153.3,404.5 153.6,403.9 153.9,403.2 154.3,402.5 154.6,401.9 154.9,401.2 155.3,400.5 155.6,399.8 155.9,399.2 156.3,398.5 156.6,397.8 156.9,397.1 157.3,396.5 157.6,395.8 157.9,395.1 158.3,394.4 158.6,393.8 158.9,393.1 159.3,392.4 159.6,391.8 159.9,391.1 160.3,390.4 160.6,389.7 160.9,389.1 161.2,388.4 161.6,387.7 161.9,387.0 162.2,386.4 162.6,385.7 162.9,385.0 163.2,384.3 163.6,383.6 163.9,383.0 164.2,382.3 164.5,381.6 164.9,380.9 165.2,380.3 165.5,379.6 165.8,378.9 166.2,378.2 166.5,377.6 166.8,376.9 167.2,376.2 167.5,375.5 167.8,374.9 168.1,374.2 168.5,373.5 168.8,372.8 169.1,372.1 169.4,371.5 169.8,370.8 170.1,370.1 170.4,369.4 170.7,368.7 171.1,368.1 171.4,367.4 171.7,366.7 172.0,366.0 172.4,365.4 172.7,364.7 173.0,364.0 173.3,363.3 173.6,362.6 174.0,362.0 174.3,361.3 174.6,360.6 174.9,359.9 175.3,359.2 175.6,358.6 175.9,357.9 176.2,357.2 176.5,356.5 176.9,355.8 177.2,355.2 177.5,354.5 177.8,353.8 178.2,353.1 178.5,352.4 178.8,351.8 179.1,351.1 179.4,350.4 179.8,349.7 180.1,349.0 180.4,348.4 180.7,347.7 181.0,347.0 181.4,346.3 181.7,345.6 182.0,345.0 182.3,344.3 182.6,343.6 182.9,342.9 183.3,342.2 183.6,341.5 183.9,340.9 184.2,340.2 184.5,339.5 184.9,338.8 185.2,338.1 185.5,337.5 185.8,336.8 186.1,336.1 186.4,335.4 186.8,334.7 187.1,334.0 187.4,333.4 187.7,332.7 188.0,332.0 188.4,331.3 188.7,330.6 189.0,329.9 189.3,329.3 189.6,328.6 189.9,327.9 190.3,327.2 190.6,326.5 190.9,325.8 191.2,325.2 191.5,324.5 191.8,323.8 192.2,323.1 192.5,322.4 192.8,321.7 193.1,321.1 193.4,320.4 193.7,319.7 194.0,319.0 194.4,318.3 194.7,317.6 195.0,317.0 195.3,316.3 195.6,315.6 195.9,314.9 196.3,314.2 196.6,313.5 196.9,312.9 197.2,312.2 197.5,311.5 197.8,310.8 198.1,310.1 198.5,309.4 198.8,308.8 199.1,308.1 199.4,307.4 199.7,306.7 200.0,306.0 200.3,305.3 200.7,304.7 201.0,304.0 201.3,303.3 201.6,302.6 201.9,301.9 202.2,301.2 202.5,300.5 202.9,299.9 203.2,299.2 203.5,298.5 203.8,297.8 204.1,297.1 204.4,296.4 204.7,295.8 205.1,295.1 205.4,294.4 205.7,293.7 206.0,293.0 206.3,292.3 206.6,291.6 206.9,291.0 207.3,290.3 207.6,289.6 207.9,288.9 208.2,288.2 208.5,287.5 208.8,286.9 209.1,286.2 209.5,285.5 209.8,284.8 210.1,284.1 210.4,283.4 210.7,282.7 211.0,282.1 211.3,281.4 211.6,280.7 212.0,280.0 212.3,279.3 212.6,278.6 212.9,278.0 213.2,277.3 213.5,276.6 213.8,275.9 214.2,275.2 214.5,274.5 214.8,273.8 215.1,273.2 215.4,272.5 215.7,271.8 216.0,271.1 216.4,270.4 216.7,269.7 217.0,269.1 217.3,268.4 217.6,267.7 217.9,267.0 218.2,266.3 218.6,265.6 218.9,265.0 219.2,264.3 219.5,263.6 219.8,262.9 220.1,262.2 220.4,261.5 220.8,260.8 221.1,260.2 221.4,259.5 221.7,258.8 222.0,258.1 222.3,257.4 222.7,256.7 223.0,256.1 223.3,255.4 223.6,254.7 223.9,254.0 224.2,253.3 224.5,252.6 224.9,252.0 225.2,251.3 225.5,250.6 225.8,249.9 226.1,249.2 226.4,248.5 226.8,247.9 227.1,247.2 227.4,246.5 227.7,245.8 228.0,245.1 228.3,244.4 228.7,243.8 229.0,243.1 229.3,242.4 229.6,241.7 229.9,241.0 230.2,240.3 230.6,239.7 230.9,239.0 231.2,238.3 231.5,237.6 231.8,236.9 232.1,236.2 232.5,235.6 232.8,234.9 233.1,234.2 233.4,233.5 233.7,232.8 234.1,232.1 234.4,231.5 234.7,230.8 235.0,230.1 235.3,229.4 235.6,228.7 236.0,228.1 236.3,227.4 236.6,226.7 236.9,226.0 237.2,225.3 237.6,224.6 237.9,224.0 238.2,223.3 238.5,222.6 238.8,221.9 239.2,221.2 239.5,220.6 239.8,219.9 240.1,219.2 240.4,218.5 240.8,217.8 241.1,217.2 241.4,216.5 241.7,215.8 242.1,215.1 242.4,214.4 242.7,213.8 243.0,213.1 243.3,212.4 243.7,211.7 244.0,211.0 244.3,210.4 244.6,209.7 245.0,209.0 245.3,208.3 245.6,207.6 245.9,207.0 246.3,206.3 246.6,205.6 246.9,204.9 247.2,204.2 247.5,203.6 247.9,202.9 248.2,202.2 248.5,201.5 248.8,200.8 249.2,200.2 249.5,199.5 249.8,198.8 250.2,198.1 250.5,197.4 250.8,196.8 251.1,196.1 251.5,195.4 251.8,194.7 252.1,194.1 252.4,193.4 252.8,192.7 253.1,192.0 253.4,191.3 253.7,190.7 254.1,190.0 254.4,189.3 254.7,188.6 255.1,188.0 255.4,187.3 255.7,186.6 256.1,185.9 256.4,185.3 256.7,184.6 257.0,183.9 257.4,183.2 257.7,182.6 258.0,181.9 258.4,181.2 258.7,180.5 259.0,179.9 259.4,179.2 259.7,178.5 260.0,177.8 260.4,177.2 260.7,176.5 261.0,175.8 261.4,175.1 261.7,174.5 262.0,173.8 262.4,173.1 262.7,172.4 263.0,171.8 263.4,171.1 263.7,170.4 264.0,169.7 264.4,169.1 264.7,168.4 265.0,167.7 265.4,167.0 265.7,166.4 266.0,165.7 266.4,165.0 266.7,164.4 267.1,163.7 267.4,163.0 267.7,162.3 268.1,161.7 268.4,161.0 268.7,160.3 269.1,159.7 269.4,159.0 269.8,158.3 270.1,157.6 270.4,157.0 270.8,156.3 271.1,155.6 271.5,155.0 271.8,154.3 272.1,153.6 272.5,153.0 272.8,152.3 273.2,151.6 273.5,150.9 273.9,150.3 274.2,149.6 274.5,148.9 274.9,148.3 275.2,147.6 275.6,146.9 275.9,146.3 276.3,145.6 276.6,144.9 277.0,144.3 277.3,143.6 277.6,142.9 278.0,142.3 278.3,141.6 278.7,140.9 279.0,140.3 279.4,139.6 279.7,138.9 280.1,138.3 280.4,137.6 280.8,136.9 281.1,136.3 281.5,135.6 281.8,134.9 282.2,134.3 282.5,133.6 282.9,132.9 283.2,132.3 283.6,131.6 283.9,130.9 284.3,130.3 284.6,129.6 285.0,129.0 285.3,128.3 285.7,127.6 286.0,127.0 286.4,126.3 286.8,125.6 287.1,125.0 287.5,124.3 287.8,123.7 288.2,123.0 288.5,122.3 288.9,121.7 289.2,121.0 289.6,120.3 290.0,119.7 290.3,119.0 290.7,118.4 291.0,117.7 291.4,117.0 291.8,116.4 292.1,115.7 292.5,115.1 292.8,114.4 293.2,113.7 293.6,113.1 293.9,112.4 294.3,111.8 294.6,111.1 295.0,110.4 295.4,109.8 295.7,109.1 296.1,108.5 296.5,107.8 296.8,107.2 297.2,106.5 297.5,105.8 297.9,105.2 298.3,104.5 298.6,103.9 299.0,103.2 299.4,102.6 299.7,101.9 300.1,101.2 300.5,100.6 300.8,99.9 301.2,99.3 301.6,98.6 301.9,98.0 302.3,97.3 302.7,96.7 303.0,96.0 303.4,95.3 303.8,94.7 304.1,94.0 304.5,93.4 304.9,92.7 305.2,92.1 305.6,91.4 306.0,90.8 306.3,90.1 306.7,89.5 307.1,88.8 307.4,88.1 307.8,87.5 308.2,86.8 308.5,86.2 308.9,85.5 309.3,84.9 309.6,84.2 310.0,83.6 310.4,82.9 310.8,82.3 311.1,81.6 311.5,81.0 311.9,80.3 312.2,79.7 312.6,79.0 313.0,78.3 313.3,77.7 313.7,77.0 314.1,76.4 314.5,75.7 314.8,75.1 315.2,74.4 315.6,73.8 315.9,73.1 316.3,72.5 316.7,71.8 317.0,71.2 317.4,70.5 317.8,69.9 318.2,69.2 318.5,68.6 318.9,67.9 319.3,67.3 319.6,66.6 320.0,66.0 320.4,65.3 320.8,64.7 321.1,64.0 321.5,63.4 321.9,62.7 322.2,62.1 322.6,61.4 323.0,60.8 323.4,60.1 323.7,59.5 324.1,58.8 324.5,58.2 324.8,57.5 325.2,56.9 325.6,56.2 325.9,55.6 326.3,54.9 326.7,54.3 327.1,53.6 327.4,53.0 327.8,52.3 328.2,51.7 328.5,51.0 328.9,50.4 329.3,49.7 329.6,49.1 330.0,48.4 330.4,47.8 330.7,47.1 331.1,46.5 331.5,45.8 331.9,45.2 332.2,44.5 332.6,43.9 333.0,43.2 333.3,42.6 333.7,41.9 334.1,41.3 334.4,40.6 334.8,40.0 335.2,39.3 335.5,38.7 335.9,38.0 336.3,37.4 336.6,36.8 337.0,36.1 337.4,35.5 337.7,34.8 338.1,34.2 338.5,33.5 338.8,32.9 339.2,32.2 339.6,31.6 339.9,30.9 340.3,30.3 340.7,29.6 341.0,29.0 341.4,28.3 341.7,27.7 342.1,27.0 342.3,26.6 152.4,26.6" fill="#04649e"/>
<polygon points="152.4,243.4 152.5,243.1 152.6,242.7 152.8,242.3 152.9,241.9 153.0,241.5 153.2,241.2 153.3,240.8 153.5,240.4 153.6,240.0 153.7,239.6 153.9,239.2 154.0,238.9 154.2,238.5 154.3,238.1 154.4,237.7 154.6,237.3 154.7,236.9 154.8,236.5 155.0,236.2 155.1,235.8 155.3,235.4 155.4,235.0 155.5,234.6 155.7,234.2 155.8,233.9 156.0,233.5 156.1,233.1 156.2,232.7 156.4,232.3 156.5,231.9 156.6,231.6 156.8,231.2 156.9,230.8 157.1,230.4 157.2,230.0 157.3,229.6 157.5,229.2 157.6,228.9 157.8,228.5 157.9,228.1 158.0,227.7 158.2,227.3 158.3,226.9 158.4,226.6 158.6,226.2 158.7,225.8 158.9,225.4 159.0,225.0 159.1,224.6 159.3,224.3 159.4,223.9 159.6,223.5 159.7,223.1 159.8,222.7 160.0,222.3 160.1,222.0 160.3,221.6 160.4,221.2 160.5,220.8 160.7,220.4 160.8,220.0 160.9,219.6 161.1,219.3 161.2,218.9 161.4,218.5 161.5,218.1 161.6,217.7 161.8,217.3 161.9,217.0 162.1,216.6 162.2,216.2 162.3,215.8 162.5,215.4 162.6,215.0 162.8,214.7 162.9,214.3 163.0,213.9 163.2,213.5 163.3,213.1 163.4,212.7 163.6,212.4 163.7,212.0 163.9,211.6 164.0,211.2 164.1,210.8 164.3,210.4 164.4,210.0 164.6,209.7 164.7,209.3 164.8,208.9 165.0,208.5 165.1,208.1 165.3,207.7 165.4,207.4 165.5,207.0 165.7,206.6 165.8,206.2 165.9,205.8 166.1,205.4 166.2,205.1 166.4,204.7 166.5,204.3 166.6,203.9 166.8,203.5 166.9,203.1 167.1,202.8 167.2,202.4 167.3,202.0 167.5,201.6 167.6,201.2 167.8,200.8 167.9,200.4 168.0,200.1 168.2,199.7 168.3,199.3 168.4,198.9 168.6,198.5 168.7,198.1 168.9,197.8 169.0,197.4 169.1,197.0 169.3,196.6 169.4,196.2 169.6,195.8 169.7,195.5 169.8,195.1 170.0,194.7 170.1,194.3 170.3,193.9 170.4,193.5 170.5,193.2 170.7,192.8 170.8,192.4 171.0,192.0 171.1,191.6 171.2,191.2 171.4,190.9 171.5,190.5 171.7,190.1 171.8,189.7 171.9,189.3 172.1,188.9 172.2,188.6 172.3,188.2 172.5,187.8 172.6,187.4 172.8,187.0 172.9,186.6 173.0,186.2 173.2,185.9 173.3,185.5 173.5,185.1 173.6,184.7 173.7,184.3 173.9,183.9 174.0,183.6 174.2,183.2 174.3,182.8 174.4,182.4 174.6,182.0 174.7,181.6 174.9,181.3 175.0,180.9 175.1,180.5 175.3,180.1 175.4,179.7 175.5,179.3 175.7,179.0 175.8,178.6 176.0,178.2 176.1,177.8 176.2,177.4 176.4,177.0 176.5,176.7 176.7,176.3 176.8,175.9 176.9,175.5 177.1,175.1 177.2,174.7 177.4,174.4 177.5,174.0 177.6,173.6 177.8,173.2 177.9,172.8 178.1,172.4 178.2,172.0 178.3,171.7 178.5,171.3 178.6,170.9 178.8,170.5 178.9,170.1 179.0,169.7 179.2,169.4 179.3,169.0 179.5,168.6 179.6,168.2 179.7,167.8 179.9,167.4 180.0,167.1 180.2,166.7 180.3,166.3 180.4,165.9 180.6,165.5 180.7,165.1 180.8,164.8 181.0,164.4 181.1,164.0 181.3,163.6 181.4,163.2 181.5,162.8 181.7,162.5 181.8,162.1 182.0,161.7 182.1,161.3 182.2,160.9 182.4,160.5 182.5,160.2 182.7,159.8 182.8,159.4 182.9,159.0 183.1,158.6 183.2,158.2 183.4,157.9 183.5,157.5 183.6,157.1 183.8,156.7 183.9,156.3 184.1,155.9 184.2,155.5 184.3,155.2 184.5,154.8 184.6,154.4 184.8,154.0 184.9,153.6 185.0,153.2 185.2,152.9 185.3,152.5 185.5,152.1 185.6,151.7 185.7,151.3 185.9,150.9 186.0,150.6 186.2,150.2 186.3,149.8 186.4,149.4 186.6,149.0 186.7,148.6 186.8,148.3 187.0,147.9 187.1,147.5 187.3,147.1 187.4,146.7 187.5,146.3 187.7,146.0 187.8,145.6 188.0,145.2 188.1,144.8 188.2,144.4 188.4,144.0 188.5,143.7 188.7,143.3 188.8,142.9 188.9,142.5 189.1,142.1 189.2,141.7 189.4,141.4 189.5,141.0 189.6,140.6 189.8,140.2 189.9,139.8 190.1,139.4 190.2,139.1 190.3,138.7 190.5,138.3 190.6,137.9 190.8,137.5 190.9,137.1 191.0,136.7 191.2,136.4 191.3,136.0 191.5,135.6 191.6,135.2 191.7,134.8 191.9,134.4 192.0,134.1 192.2,133.7 192.3,133.3 192.4,132.9 192.6,132.5 192.7,132.1 192.9,131.8 193.0,131.4 193.1,131.0 193.3,130.6 193.4,130.2 193.6,129.8 193.7,129.5 193.8,129.1 194.0,128.7 194.1,128.3 194.3,127.9 194.4,127.5 194.5,127.2 194.7,126.8 194.8,126.4 194.9,126.0 195.1,125.6 195.2,125.2 195.4,124.9 195.5,124.5 195.6,124.1 195.8,123.7 195.9,123.3 196.1,122.9 196.2,122.6 196.3,122.2 196.5,121.8 196.6,121.4 196.8,121.0 196.9,120.6 197.0,120.3 197.2,119.9 197.3,119.5 197.5,119.1 197.6,118.7 197.7,118.3 197.9,118.0 198.0,117.6 198.2,117.2 198.3,116.8 198.4,116.4 198.6,116.0 198.7,115.7 198.9,115.3 199.0,114.9 199.1,114.5 199.3,114.1 199.4,113.7 199.6,113.3 199.7,113.0 199.8,112.6 200.0,112.2 200.1,111.8 200.3,111.4 200.4,111.0 200.5,110.7 200.7,110.3 200.8,109.9 201.0,109.5 201.1,109.1 201.2,108.7 201.4,108.4 201.5,108.0 201.7,107.6 201.8,107.2 201.9,106.8 202.1,106.4 202.2,106.1 202.4,105.7 202.5,105.3 202.6,104.9 202.8,104.5 202.9,104.1 203.1,103.8 203.2,103.4 203.3,103.0 203.5,102.6 203.6,102.2 203.8,101.8 203.9,101.5 204.0,101.1 204.2,100.7 204.3,100.3 204.4,99.9 204.6,99.5 204.7,99.2 204.9,98.8 205.0,98.4 205.1,98.0 205.3,97.6 205.4,97.2 205.6,96.9 205.7,96.5 205.8,96.1 206.0,95.7 206.1,95.3 206.3,94.9 206.4,94.5 206.5,94.2 206.7,93.8 206.8,93.4 207.0,93.0 207.1,92.6 207.2,92.2 207.4,91.9 207.5,91.5 207.7,91.1 207.8,90.7 207.9,90.3 208.1,89.9 208.2,89.6 208.4,89.2 208.5,88.8 208.6,88.4 208.8,88.0 208.9,87.6 209.1,87.3 209.2,86.9 209.3,86.5 209.5,86.1 209.6,85.7 209.8,85.3 209.9,85.0 210.0,84.6 210.2,84.2 210.3,83.8 210.5,83.4 210.6,83.0 210.7,82.7 210.9,82.3 211.0,81.9 211.2,81.5 211.3,81.1 211.4,80.7 211.6,80.4 211.7,80.0 211.9,79.6 212.0,79.2 212.1,78.8 212.3,78.4 212.4,78.1 212.6,77.7 212.7,77.3 212.8,76.9 213.0,76.5 213.1,76.1 213.2,75.7 213.4,75.4 213.5,75.0 213.7,74.6 213.8,74.2 213.9,73.8 214.1,73.4 214.2,73.1 214.4,72.7 214.5,72.3 214.6,71.9 214.8,71.5 214.9,71.1 215.1,70.8 215.2,70.4 215.3,70.0 215.5,69.6 215.6,69.2 215.8,68.8 215.9,68.5 216.0,68.1 216.2,67.7 216.3,67.3 216.5,66.9 216.6,66.5 216.7,66.2 216.9,65.8 217.0,65.4 217.2,65.0 217.3,64.6 217.4,64.2 217.6,63.9 217.7,63.5 217.9,63.1 218.0,62.7 218.1,62.3 218.3,61.9 218.4,61.6 218.6,61.2 218.7,60.8 218.8,60.4 219.0,60.0 219.1,59.6 219.3,59.2 219.4,58.9 219.5,58.5 219.7,58.1 219.8,57.7 219.9,57.3 220.1,56.9 220.2,56.6 220.4,56.2 220.5,55.8 220.6,55.4 220.8,55.0 220.9,54.6 221.1,54.3 221.2,53.9 221.3,53.5 221.5,53.1 221.6,52.7 221.8,52.3 221.9,52.0 222.0,51.6 222.2,51.2 222.3,50.8 222.5,50.4 222.6,50.0 222.7,49.7 222.9,49.3 223.0,48.9 223.2,48.5 223.3,48.1 223.4,47.7 223.6,47.3 223.7,47.0 223.9,46.6 224.0,46.2 224.1,45.8 224.3,45.4 224.4,45.0 224.5,44.7 224.7,44.3 224.8,43.9 225.0,43.5 225.1,43.1 225.2,42.7 225.4,42.4 225.5,42.0 225.7,41.6 225.8,41.2 225.9,40.8 226.1,40.4 226.2,40.1 226.4,39.7 226.5,39.3 226.6,38.9 226.8,38.5 226.9,38.1 227.1,37.8 227.2,37.4 227.3,37.0 227.5,36.6 227.6,36.2 227.8,35.8 227.9,35.4 228.0,35.1 228.2,34.7 228.3,34.3 228.4,33.9 228.6,33.5 228.7,33.1 228.9,32.8 229.0,32.4 229.1,32.0 229.3,31.6 229.4,31.2 229.6,30.8 229.7,30.5 229.8,30.1 230.0,29.7 230.1,29.3 230.3,28.9 230.4,28.5 230.5,28.2 230.7,27.8 230.8,27.4 231.0,27.0 231.1,26.6 231.1,26.6 152.4,26.6" fill="#034871"/>
<g fill="none" stroke="#000" stroke-width="9.0" stroke-linecap="butt" stroke-linejoin="round">
<polyline points="152.4,864.2 152.8,864.2 155.1,863.9 157.4,863.7 159.7,863.4 162.0,863.2 164.3,862.9 166.7,862.7 169.0,862.4 171.3,862.2 173.6,861.9 175.9,861.7 178.2,861.4 180.6,861.2 182.9,860.9 185.2,860.7 187.5,860.4 189.8,860.2 192.2,859.9 194.5,859.7 196.8,859.4 199.1,859.2 201.5,858.9 203.8,858.7 206.1,858.4 208.4,858.2 210.8,857.9 213.1,857.7 215.4,857.4 217.7,857.2 220.1,856.9 222.4,856.7 224.7,856.4 227.0,856.2 229.4,855.9 231.7,855.7 234.0,855.4 236.3,855.2 238.7,854.9 241.0,854.7 243.3,854.4 245.7,854.2 248.0,853.9 250.3,853.7 252.7,853.4 255.0,853.2 257.3,852.9 259.6,852.7 262.0,852.4 264.3,852.2 266.6,851.9 269.0,851.7 271.3,851.4 273.6,851.2 276.0,850.9 278.3,850.7 280.6,850.4 283.0,850.2 285.3,849.9 287.6,849.6 290.0,849.4 292.3,849.1 294.6,848.9 297.0,848.6 299.3,848.4 301.6,848.1 304.0,847.9 306.3,847.6 308.6,847.3 311.0,847.1 313.3,846.8 315.7,846.6 318.0,846.3 320.3,846.0 322.7,845.8 325.0,845.5 327.3,845.3 329.7,845.0 332.0,844.7 334.3,844.5 336.7,844.2 339.0,843.9 341.3,843.7 343.7,843.4 346.0,843.1 348.4,842.9 350.7,842.6 353.0,842.3 355.4,842.1 357.7,841.8 360.0,841.5 362.4,841.2 364.7,841.0 367.0,840.7 369.4,840.4 371.7,840.1 374.1,839.9 376.4,839.6 378.7,839.3 381.1,839.0 383.4,838.7 385.7,838.4 388.1,838.2 390.4,837.9 392.7,837.6 395.1,837.3 397.4,837.0 399.7,836.7 402.1,836.4 404.4,836.1 406.8,835.8 409.1,835.6 411.4,835.3 413.8,835.0 416.1,834.7 418.4,834.4 420.8,834.1 423.1,833.8 425.4,833.5 427.8,833.2 430.1,832.9 432.4,832.5 434.8,832.2 437.1,831.9 439.4,831.6 441.8,831.3 444.1,831.0 446.4,830.7 448.8,830.4 451.1,830.0 453.4,829.7 455.8,829.4 458.1,829.1 460.4,828.8 462.8,828.4 465.1,828.1 467.4,827.8 469.8,827.5 472.1,827.1 474.4,826.8 476.7,826.5 479.1,826.1 481.4,825.8 483.7,825.4 486.1,825.1 488.4,824.8 490.7,824.4 493.0,824.1 495.4,823.7 497.7,823.4 500.0,823.0 502.3,822.7 504.7,822.3 507.0,822.0 509.3,821.6 511.6,821.2 514.0,820.9 516.3,820.5 518.6,820.2 520.9,819.8 523.3,819.4 525.6,819.1 527.9,818.7 530.2,818.3 532.6,817.9 534.9,817.5 537.2,817.2 539.5,816.8 541.8,816.4 544.2,816.0 546.5,815.6 548.8,815.2 551.1,814.8 553.4,814.5 555.7,814.1 558.1,813.7 560.4,813.3 562.7,812.9 565.0,812.4 567.3,812.0 569.6,811.6 572.0,811.2 574.3,810.8 576.6,810.4 578.9,810.0 581.2,809.6 583.5,809.1 585.8,808.7 588.1,808.3 590.4,807.8 592.8,807.4 595.1,807.0 597.4,806.5 599.7,806.1 602.0,805.7 604.3,805.2 606.6,804.8 608.9,804.3 611.2,803.9 613.5,803.4 615.8,803.0 618.1,802.5 620.4,802.0 622.7,801.6 625.0,801.1 627.3,800.6 629.6,800.2 631.9,799.7 634.2,799.2 636.5,798.7 638.8,798.3 641.1,797.8 643.4,797.3 645.7,796.8 648.0,796.3 650.3,795.8 652.6,795.3 654.9,794.8 657.2,794.3 659.5,793.8 661.7,793.3 664.0,792.8 666.3,792.3 668.6,791.8 670.9,791.2 673.2,790.7 675.5,790.2 677.8,789.7 680.0,789.1 682.3,788.6 684.6,788.1 686.9,787.5 689.2,787.0 691.4,786.4 693.7,785.9 696.0,785.3 698.3,784.8 700.6,784.2 702.8,783.7 705.1,783.1 707.4,782.5 709.7,782.0 711.9,781.4 714.2,780.8 716.5,780.2 718.7,779.6 721.0,779.1 723.3,778.5 725.6,777.9 727.8,777.3 730.1,776.7 732.4,776.1 734.6,775.5 736.9,774.9 739.1,774.3 741.4,773.6 743.7,773.0 745.9,772.4 748.2,771.8 750.4,771.1 752.7,770.5 755.0,769.9 757.2,769.2 759.5,768.6 761.7,768.0 764.0,767.3 766.2,766.7 768.5,766.0 770.7,765.3 773.0,764.7 775.2,764.0 777.5,763.3 779.7,762.7 781.9,762.0 784.2,761.3 786.4,760.6 788.7,759.9 790.9,759.3 793.2,758.6 795.4,757.9 797.6,757.2 799.9,756.5 802.1,755.7 804.3,755.0 806.6,754.3 808.8,753.6 811.0,752.9 813.3,752.1 815.5,751.4 817.7,750.7 819.9,749.9 822.2,749.2 824.4,748.4 826.6,747.7 828.8,746.9 831.1,746.2 833.3,745.4 835.5,744.7 837.7,743.9 839.9,743.1 842.1,742.3 844.4,741.5 846.6,740.8 848.8,740.0 851.0,739.2 853.2,738.4 855.4,737.6 857.6,736.8 859.8,736.0 862.0,735.1 864.2,734.3 866.4,733.5 868.6,732.7 870.8,731.8 873.0,731.0 875.2,730.2 877.4,729.3 879.6,728.5 881.8,727.6 884.0,726.8 886.2,725.9 888.3,725.0 890.5,724.2 892.7,723.3 894.9,722.4 897.1,721.5 899.3,720.7 901.4,719.8 903.6,718.9 905.8,718.0 907.9,717.1 910.1,716.1 912.3,715.2 914.4,714.3 916.6,713.4 918.8,712.5 920.9,711.5 923.1,710.6 925.2,709.7 927.4,708.7 929.5,707.8 931.7,706.8 933.8,705.8 936.0,704.9 938.1,703.9 940.2,702.9 942.4,701.9 944.5,701.0 946.6,700.0 948.8,699.0 950.9,698.0 953.0,697.0 955.2,696.0 957.3,694.9 959.4,693.9 961.5,692.9 963.6,691.9 965.7,690.8 967.8,689.8 969.9,688.8 972.0,687.7 974.1,686.7 976.2,685.6 978.3,684.5 980.4,683.5 982.5,682.4 984.6,681.3 986.7,680.2 988.7,679.1 990.8,678.0 992.9,676.9 994.9,675.8 997.0,674.7 999.1,673.6 1001.1,672.5 1003.2,671.3 1005.2,670.2 1007.3,669.1 1009.3,667.9 1011.4,666.8 1013.4,665.6 1015.5,664.5 1017.5,663.3 1019.5,662.1 1021.6,660.9 1023.6,659.8 1025.6,658.6 1027.6,657.4 1029.6,656.2 1031.6,655.0 1033.7,653.8 1035.7,652.5 1037.7,651.3 1039.6,650.1 1041.6,648.9 1043.6,647.6 1045.6,646.4 1047.6,645.1 1049.6,643.9 1051.5,642.6 1053.5,641.3 1055.5,640.0 1057.4,638.8 1059.4,637.5 1061.4,636.2 1063.3,634.9 1065.3,633.6 1067.2,632.3 1069.1,631.0 1071.1,629.6 1073.0,628.3 1074.9,627.0 1076.9,625.7 1078.8,624.3 1080.7,623.0 1082.6,621.6 1084.5,620.3 1086.4,618.9 1088.3,617.5 1090.2,616.1 1092.1,614.8 1094.0,613.4 1095.9,612.0 1097.8,610.6 1099.7,609.2 1101.6,607.8 1103.4,606.4 1105.3,605.0 1107.2,603.6 1109.0,602.1 1110.9,600.7 1112.8,599.3 1114.6,597.8 1116.5,596.4 1118.3,595.0 1120.2,593.5 1122.0,592.0 1123.8,590.6 1125.7,589.1 1127.5,587.6 1129.3,586.2 1131.1,584.7 1133.0,583.2 1134.8,581.7 1136.6,580.2 1138.4,578.7 1140.2,577.2 1142.0,575.7 1143.8,574.2 1145.6,572.7 1147.4,571.2 1149.2,569.7 1151.0,568.1 1152.8,566.6 1154.6,565.1 1156.3,563.5 1158.1,562.0 1159.9,560.5 1161.7,558.9 1163.4,557.4 1165.2,555.8 1166.9,554.2 1168.7,552.7 1170.5,551.1 1172.2,549.5 1173.9,548.0 1175.7,546.4 1177.4,544.8 1179.2,543.2 1180.9,541.6 1182.6,540.0 1184.4,538.4 1186.1,536.8 1187.8,535.2 1189.5,533.6 1191.3,532.0 1193.0,530.4 1194.7,528.8 1196.4,527.2 1198.1,525.5 1199.8,523.9 1201.5,522.3 1203.2,520.7 1204.9,519.0 1206.6,517.4 1208.3,515.7 1209.9,514.1 1211.6,512.4 1213.3,510.8 1215.0,509.1 1216.7,507.5 1218.3,505.8 1220.0,504.2 1221.7,502.5 1223.3,500.8 1225.0,499.2 1226.6,497.5 1228.3,495.8 1229.9,494.2 1231.6,492.5 1233.2,490.8 1234.9,489.1 1236.5,487.4 1238.2,485.7 1239.8,484.0 1241.4,482.4 1243.1,480.7 1244.7,479.0 1246.3,477.3 1247.9,475.6 1249.6,473.9 1251.2,472.1 1252.8,470.4 1254.4,468.7 1256.0,467.0 1257.6,465.3 1259.2,463.6 1260.8,461.9 1262.5,460.1 1262.8,459.7"/>
<polyline points="1158.9,134.4 1159.0,134.2 1160.9,132.7 1162.8,131.1 1164.7,129.6 1166.5,128.0 1168.4,126.4 1170.3,124.9 1172.2,123.3 1174.1,121.8 1175.9,120.2 1177.8,118.7 1179.7,117.1 1181.6,115.6 1183.5,114.0 1185.4,112.5 1187.3,111.0 1189.1,109.4 1191.0,107.9 1192.9,106.3 1194.8,104.8 1196.7,103.2 1198.6,101.7 1200.5,100.2 1202.4,98.6 1204.3,97.1 1206.2,95.5 1208.0,94.0 1209.9,92.5 1211.8,90.9 1213.7,89.4 1215.6,87.8 1217.5,86.3 1219.4,84.8 1221.3,83.2 1223.2,81.7 1225.1,80.1 1227.0,78.6 1228.8,77.1 1230.7,75.5 1232.6,74.0 1234.5,72.4 1236.4,70.9 1238.3,69.3 1240.2,67.8 1242.0,66.2 1243.9,64.7 1245.8,63.1 1247.7,61.6 1249.6,60.0 1251.5,58.5 1253.3,56.9 1255.2,55.3 1257.1,53.8 1258.9,52.2 1260.8,50.6 1262.7,49.1 1264.6,47.5 1266.4,45.9 1268.3,44.3 1270.1,42.8 1272.0,41.2 1273.9,39.6 1275.7,38.0 1277.6,36.4 1279.4,34.8 1281.3,33.2 1283.1,31.6 1284.9,30.0 1286.8,28.4 1288.6,26.8 1288.7,26.7"/>
<polyline points="152.5,794.0 152.6,794.0 154.9,793.2 157.2,792.3 159.5,791.5 161.8,790.6 164.0,789.7 166.3,788.9 168.6,788.0 170.9,787.2 173.2,786.3 175.5,785.4 177.7,784.6 180.0,783.7 182.3,782.8 184.6,781.9 186.8,781.0 189.1,780.2 191.4,779.3 193.7,778.4 195.9,777.5 198.2,776.6 200.5,775.7 202.7,774.8 205.0,773.9 207.3,773.0 209.5,772.1 211.8,771.2 214.1,770.3 216.3,769.4 218.6,768.4 220.8,767.5 223.1,766.6 225.4,765.7 227.6,764.8 229.9,763.8 232.1,762.9 234.4,762.0 236.6,761.0 238.9,760.1 241.2,759.1 243.4,758.2 245.7,757.3 247.9,756.3 250.2,755.4 252.4,754.4 254.6,753.4 256.9,752.5 259.1,751.5 261.4,750.6 263.6,749.6 265.9,748.6 268.1,747.7 270.3,746.7 272.6,745.7 274.8,744.7 277.1,743.8 279.3,742.8 281.5,741.8 283.8,740.8 286.0,739.8 288.2,738.8 290.4,737.8 292.7,736.8 294.9,735.8 297.1,734.8 299.4,733.8 301.6,732.8 303.8,731.8 306.0,730.8 308.2,729.8 310.5,728.8 312.7,727.8 314.9,726.7 317.1,725.7 319.3,724.7 321.6,723.7 323.8,722.6 326.0,721.6 328.2,720.6 330.4,719.5 332.6,718.5 334.8,717.4 337.0,716.4 339.2,715.4 341.4,714.3 343.7,713.3 345.9,712.2 348.1,711.2 350.3,710.1 352.5,709.0 354.7,708.0 356.9,706.9 359.1,705.8 361.3,704.8 363.5,703.7 365.6,702.6 367.8,701.6 370.0,700.5 372.2,699.4 374.4,698.3 376.6,697.2 378.8,696.1 381.0,695.1 383.2,694.0 385.3,692.9 387.5,691.8 389.7,690.7 391.9,689.6 394.1,688.5 396.3,687.4 398.4,686.3 400.6,685.2 402.8,684.0 405.0,682.9 407.1,681.8 409.3,680.7 411.5,679.6 413.6,678.5 415.8,677.3 418.0,676.2 420.1,675.1 422.3,673.9 424.5,672.8 426.6,671.7 428.8,670.5 431.0,669.4 433.1,668.2 435.3,667.1 437.4,666.0 439.6,664.8 441.7,663.7 443.9,662.5 446.1,661.4 448.2,660.2 450.4,659.0 452.5,657.9 454.7,656.7 456.8,655.5 458.9,654.4 461.1,653.2 463.2,652.0 465.4,650.9 467.5,649.7 469.7,648.5 471.8,647.3 473.9,646.1 476.1,645.0 478.2,643.8 480.3,642.6 482.5,641.4 484.6,640.2 486.7,639.0 488.9,637.8 491.0,636.6 493.1,635.4 495.2,634.2 497.4,633.0 499.5,631.8 501.6,630.6 503.7,629.3 505.9,628.1 508.0,626.9 510.1,625.7 512.2,624.5 514.3,623.3 516.4,622.0 518.6,620.8 520.7,619.6 522.8,618.3 524.9,617.1 527.0,615.9 529.1,614.6 531.2,613.4 533.3,612.2 535.4,610.9 537.5,609.7 539.6,608.4 541.7,607.2 543.8,605.9 545.9,604.7 548.0,603.4 550.1,602.2 552.2,600.9 554.3,599.6 556.4,598.4 558.5,597.1 560.5,595.8 562.6,594.6 564.7,593.3 566.8,592.0 568.9,590.7 571.0,589.5 573.0,588.2 575.1,586.9 577.2,585.6 579.3,584.3 581.4,583.0 583.4,581.8 585.5,580.5 587.6,579.2 589.6,577.9 591.7,576.6 593.8,575.3 595.8,574.0 597.9,572.7 600.0,571.4 602.0,570.1 604.1,568.8 606.2,567.4 608.2,566.1 610.3,564.8 612.3,563.5 614.4,562.2 616.4,560.9 618.5,559.5 620.5,558.2 622.6,556.9 624.6,555.6 626.7,554.2 628.7,552.9 630.8,551.6 632.8,550.2 634.9,548.9 636.9,547.6 638.9,546.2 641.0,544.9 643.0,543.5 645.0,542.2 647.1,540.8 649.1,539.5 651.1,538.1 653.2,536.8 655.2,535.4 657.2,534.1 659.3,532.7 661.3,531.3 663.3,530.0 665.3,528.6 667.4,527.2 669.4,525.9 671.4,524.5 673.4,523.1 675.4,521.8 677.5,520.4 679.5,519.0 681.5,517.6 683.5,516.2 685.5,514.9 687.5,513.5 689.5,512.1 691.5,510.7 693.5,509.3 695.5,507.9 697.5,506.5 699.5,505.1 701.5,503.7 703.5,502.3 705.5,500.9 707.5,499.5 709.5,498.1 711.5,496.7 713.5,495.3 715.5,493.9 717.5,492.5 719.5,491.1 721.5,489.7 723.5,488.3 725.5,486.8 727.5,485.4 729.4,484.0 731.4,482.6 733.4,481.2 735.4,479.7 737.4,478.3 739.3,476.9 741.3,475.4 743.3,474.0 745.3,472.6 747.3,471.1 749.2,469.7 751.2,468.3 753.2,466.8 755.1,465.4 757.1,463.9 759.1,462.5 761.0,461.0 763.0,459.6 765.0,458.1 766.9,456.7 768.9,455.2 770.9,453.8 772.8,452.3 774.8,450.9 776.7,449.4 778.7,448.0 780.6,446.5 782.6,445.0 784.6,443.6 786.5,442.1 788.5,440.6 790.4,439.2 792.4,437.7 794.3,436.2 796.2,434.7 798.2,433.3 800.1,431.8 802.1,430.3 804.0,428.8 806.0,427.3 807.9,425.9 809.8,424.4 811.8,422.9 813.7,421.4 815.6,419.9 817.6,418.4 819.5,416.9 821.4,415.4 823.4,413.9 825.3,412.4 827.2,410.9 829.2,409.4 831.1,407.9 833.0,406.4 834.9,404.9 836.9,403.4 838.8,401.9 840.7,400.4 842.6,398.9 844.6,397.4 846.5,395.9 848.4,394.4 850.3,392.9 852.2,391.4 854.1,389.8 856.1,388.3 858.0,386.8 859.9,385.3 861.8,383.8 863.7,382.2 865.6,380.7 867.5,379.2 869.4,377.7 871.3,376.2 873.2,374.6 875.2,373.1 877.1,371.6 879.0,370.0 880.9,368.5 882.8,367.0 884.7,365.4 886.6,363.9 888.5,362.4 890.4,360.8 892.3,359.3 894.2,357.8 896.1,356.2 898.0,354.7 899.9,353.1 901.8,351.6 903.7,350.1 905.6,348.5 907.4,347.0 909.3,345.4 911.2,343.9 913.1,342.3 915.0,340.8 916.9,339.3 918.8,337.7 920.7,336.2 922.6,334.6 924.5,333.1 926.3,331.5 928.2,329.9 930.1,328.4 932.0,326.8 933.9,325.3 935.8,323.7 937.7,322.2 939.5,320.6 941.4,319.1 943.3,317.5 945.2,316.0 947.1,314.4 948.9,312.8 950.8,311.3 952.7,309.7 954.6,308.2 956.5,306.6 958.3,305.0 960.2,303.5 962.1,301.9 964.0,300.3 965.8,298.8 967.7,297.2 969.6,295.6 971.5,294.1 973.3,292.5 975.2,290.9 977.1,289.4 979.0,287.8 980.8,286.2 982.7,284.7 984.6,283.1 986.4,281.5 988.3,280.0 990.2,278.4 992.0,276.8 993.9,275.2 995.8,273.7 997.6,272.1 999.5,270.5 1001.4,268.9 1003.2,267.4 1005.1,265.8 1006.2,264.8"/>
<polyline points="685.4,269.4 686.5,268.5 687.8,267.2 689.2,265.9 690.6,264.6 692.0,263.3 693.4,262.0 694.8,260.7 696.2,259.4 697.6,258.2 699.0,256.9 700.4,255.6 701.8,254.3 703.2,253.0 704.6,251.7 706.0,250.5 707.4,249.2 708.8,247.9 710.2,246.6 711.6,245.3 713.0,244.1 714.4,242.8 715.8,241.5 717.2,240.2 718.6,238.9 720.0,237.7 721.4,236.4 722.8,235.1 724.2,233.8 725.6,232.6 727.0,231.3 728.4,230.0 729.9,228.8 731.3,227.5 732.7,226.2 734.1,224.9 735.5,223.7 736.9,222.4 738.3,221.1 739.8,219.9 741.2,218.6 742.6,217.4 744.0,216.1 745.4,214.8 746.8,213.6 748.3,212.3 749.7,211.0 751.1,209.8 752.5,208.5 754.0,207.3 755.4,206.0 756.8,204.8 758.2,203.5 759.7,202.2 761.1,201.0 762.5,199.7 763.9,198.5 765.4,197.2 766.8,196.0 768.2,194.7 769.7,193.5 771.1,192.2 772.5,191.0 774.0,189.7 775.4,188.5 776.8,187.3 778.3,186.0 779.7,184.8 781.1,183.5 782.6,182.3 784.0,181.0 785.5,179.8 786.9,178.6 788.3,177.3 789.8,176.1 791.2,174.9 792.7,173.6 794.1,172.4 795.6,171.2 797.0,169.9 798.4,168.7 799.9,167.5 801.3,166.2 802.8,165.0 804.2,163.8 805.7,162.6 807.1,161.3 808.6,160.1 810.0,158.9 811.5,157.7 813.0,156.4 814.4,155.2 815.9,154.0 817.3,152.8 818.8,151.6 820.2,150.3 821.7,149.1 823.2,147.9 824.6,146.7 826.1,145.5 827.5,144.3 829.0,143.1 830.5,141.9 831.9,140.6 833.4,139.4 834.8,138.2 836.3,137.0 837.8,135.8 839.2,134.6 840.7,133.4 842.2,132.2 843.6,131.0 845.1,129.8 846.6,128.6 848.0,127.4 849.5,126.2 851.0,125.0 852.5,123.8 853.9,122.6 855.4,121.4 856.9,120.2 858.3,118.9 859.8,117.7 861.3,116.5 862.7,115.4 864.2,114.2 865.7,113.0 867.2,111.8 868.6,110.6 870.1,109.4 871.6,108.2 873.1,107.0 874.5,105.8 876.0,104.6 877.5,103.4 879.0,102.2 880.4,101.0 881.9,99.8 883.4,98.6 884.9,97.4 886.3,96.2 887.8,95.0 889.3,93.8 890.8,92.6 892.2,91.4 893.7,90.2 895.2,89.0 896.7,87.8 898.1,86.6 899.6,85.4 901.1,84.2 902.6,83.0 904.0,81.9 905.5,80.7 907.0,79.5 908.5,78.3 909.9,77.1 911.4,75.9 912.9,74.7 914.4,73.5 915.8,72.3 917.3,71.1 918.8,69.9 920.2,68.7 921.7,67.5 923.2,66.3 924.7,65.1 926.1,63.9 927.6,62.7 929.1,61.5 930.6,60.3 932.0,59.1 933.5,57.9 935.0,56.7 936.4,55.5 937.9,54.3 939.4,53.1 940.8,51.9 942.3,50.7 943.8,49.5 945.3,48.3 946.7,47.1 948.2,45.9 949.7,44.7 951.1,43.4 952.6,42.2 954.0,41.0 955.5,39.8 957.0,38.6 958.4,37.4 959.9,36.2 961.4,35.0 962.8,33.8 964.3,32.5 965.7,31.3 967.2,30.1 968.7,28.9 970.1,27.7 971.4,26.6"/>
<polyline points="152.4,718.5 153.9,717.4 155.5,716.3 157.0,715.2 158.6,714.1 160.1,713.0 161.6,711.9 163.2,710.8 164.7,709.7 166.3,708.6 167.8,707.4 169.3,706.3 170.9,705.2 172.4,704.1 174.0,703.0 175.5,701.8 177.0,700.7 178.5,699.6 180.1,698.5 181.6,697.3 183.1,696.2 184.7,695.1 186.2,693.9 187.7,692.8 189.2,691.7 190.8,690.5 192.3,689.4 193.8,688.3 195.3,687.1 196.8,686.0 198.4,684.8 199.9,683.7 201.4,682.6 202.9,681.4 204.4,680.3 205.9,679.1 207.5,678.0 209.0,676.8 210.5,675.7 212.0,674.5 213.5,673.4 215.0,672.2 216.5,671.1 218.0,669.9 219.5,668.7 221.0,667.6 222.5,666.4 224.0,665.3 225.5,664.1 227.0,662.9 228.5,661.8 230.0,660.6 231.5,659.4 233.0,658.3 234.5,657.1 236.0,655.9 237.5,654.8 239.0,653.6 240.5,652.4 242.0,651.3 243.5,650.1 245.0,648.9 246.5,647.7 248.0,646.6 249.5,645.4 250.9,644.2 252.4,643.0 253.9,641.8 255.4,640.7 256.9,639.5 258.4,638.3 259.9,637.1 261.3,635.9 262.8,634.7 264.3,633.5 265.8,632.4 267.3,631.2 268.7,630.0 270.2,628.8 271.7,627.6 273.2,626.4 274.7,625.2 276.1,624.0 277.6,622.8 279.1,621.6 280.6,620.4 282.0,619.2 283.5,618.0 285.0,616.8 286.5,615.6 287.9,614.4 289.4,613.2 290.9,612.0 292.3,610.8 293.8,609.6 295.3,608.4 296.7,607.2 298.2,606.0 299.7,604.8 301.1,603.6 302.6,602.4 304.1,601.2 305.5,600.0 307.0,598.8 308.5,597.6 309.9,596.4 311.4,595.1 312.9,593.9 314.3,592.7 315.8,591.5 317.2,590.3 318.7,589.1 320.2,587.9 321.6,586.7 323.1,585.4 324.5,584.2 326.0,583.0 327.5,581.8 328.9,580.6 330.4,579.4 331.8,578.1 333.3,576.9 334.7,575.7 336.2,574.5 337.7,573.3 339.1,572.0 340.6,570.8 342.0,569.6 343.5,568.4 344.9,567.1 346.4,565.9 347.8,564.7 349.3,563.5 350.7,562.3 352.2,561.0 353.6,559.8 355.1,558.6 356.5,557.4 358.0,556.1 359.4,554.9 360.9,553.7 362.3,552.4 363.8,551.2 365.2,550.0 366.7,548.8 368.1,547.5 369.6,546.3 371.0,545.1 372.5,543.8 373.9,542.6 375.4,541.4 376.8,540.2 378.3,538.9 379.7,537.7 381.2,536.5 382.6,535.2 384.0,534.0 385.5,532.8 386.9,531.5 388.4,530.3 389.8,529.1 391.3,527.8 392.7,526.6 394.2,525.4 395.6,524.1 397.1,522.9 398.5,521.7 399.9,520.4 401.4,519.2 402.8,518.0 404.3,516.7 405.7,515.5 407.2,514.3 408.6,513.0 410.1,511.8 411.5,510.6 412.9,509.3 414.4,508.1 415.8,506.9 417.3,505.6 418.7,504.4 420.2,503.2 421.6,501.9 423.0,500.7 424.5,499.4 425.9,498.2 427.4,497.0 428.8,495.7 430.2,494.5 431.7,493.3 433.1,492.0 434.6,490.8 436.0,489.6 437.5,488.3 438.9,487.1 440.3,485.8 441.8,484.6 443.2,483.4 444.7,482.1 446.1,480.9 447.5,479.7 449.0,478.4 450.4,477.2 451.9,475.9 453.3,474.7 454.7,473.5 456.2,472.2 457.6,471.0 459.1,469.8 460.5,468.5 461.9,467.3 463.4,466.0 464.8,464.8 466.3,463.6 467.7,462.3 469.1,461.1 470.6,459.8 472.0,458.6 473.5,457.4 474.9,456.1 476.3,454.9 477.8,453.6 479.2,452.4 480.6,451.2 482.1,449.9 483.5,448.7 485.0,447.4 486.4,446.2 487.8,445.0 489.3,443.7 490.7,442.5 492.1,441.2 493.6,440.0 495.0,438.7 496.5,437.5 497.9,436.3 499.3,435.0 500.8,433.8 502.2,432.5 503.6,431.3 505.1,430.1 506.5,428.8 507.9,427.6 509.4,426.3 510.8,425.1 512.3,423.8 513.7,422.6 515.1,421.4 516.6,420.1 518.0,418.9 519.4,417.6 520.9,416.4 522.3,415.1 523.7,413.9 525.2,412.6 526.6,411.4 528.0,410.2 529.5,408.9 530.9,407.7 532.3,406.4 533.8,405.2 534.4,404.6"/>
<polyline points="358.5,393.1 359.3,392.1 360.2,391.0 361.2,389.9 362.1,388.8 363.1,387.7 364.0,386.6 365.0,385.5 365.9,384.4 366.9,383.3 367.8,382.2 368.7,381.1 369.7,380.0 370.6,378.9 371.6,377.8 372.5,376.7 373.5,375.6 374.4,374.5 375.4,373.4 376.3,372.3 377.3,371.2 378.2,370.1 379.1,369.0 380.1,367.9 381.0,366.8 382.0,365.7 382.9,364.6 383.9,363.5 384.8,362.4 385.8,361.3 386.7,360.2 387.7,359.1 388.6,358.0 389.6,356.9 390.5,355.8 391.5,354.8 392.4,353.7 393.4,352.6 394.3,351.5 395.3,350.4 396.2,349.3 397.2,348.2 398.1,347.1 399.1,346.0 400.0,344.9 401.0,343.8 401.9,342.7 402.9,341.6 403.8,340.5 404.8,339.4 405.7,338.3 406.7,337.2 407.6,336.1 408.6,335.0 409.5,333.9 410.5,332.8 411.4,331.7 412.4,330.6 413.3,329.5 414.3,328.5 415.2,327.4 416.2,326.3 417.1,325.2 418.1,324.1 419.0,323.0 420.0,321.9 420.9,320.8 421.9,319.7 422.8,318.6 423.8,317.5 424.8,316.4 425.7,315.3 426.7,314.3 427.6,313.2 428.6,312.1 429.5,311.0 430.5,309.9 431.4,308.8 432.4,307.7 433.4,306.6 434.3,305.5 435.3,304.4 436.2,303.3 437.2,302.3 438.1,301.2 439.1,300.1 440.1,299.0 441.0,297.9 442.0,296.8 442.9,295.7 443.9,294.6 444.9,293.6 445.8,292.5 446.8,291.4 447.7,290.3 448.7,289.2 449.7,288.1 450.6,287.0 451.6,286.0 452.5,284.9 453.5,283.8 454.5,282.7 455.4,281.6 456.4,280.5 457.4,279.4 458.3,278.4 459.3,277.3 460.2,276.2 461.2,275.1 462.2,274.0 463.1,272.9 464.1,271.9 465.1,270.8 466.0,269.7 467.0,268.6 468.0,267.5 468.9,266.5 469.9,265.4 470.9,264.3 471.8,263.2 472.8,262.1 473.8,261.1 474.7,260.0 475.7,258.9 476.7,257.8 477.6,256.7 478.6,255.7 479.6,254.6 480.6,253.5 481.5,252.4 482.5,251.4 483.5,250.3 484.4,249.2 485.4,248.1 486.4,247.1 487.4,246.0 488.3,244.9 489.3,243.8 490.3,242.8 491.2,241.7 492.2,240.6 493.2,239.5 494.2,238.5 495.1,237.4 496.1,236.3 497.1,235.2 498.1,234.2 499.0,233.1 500.0,232.0 501.0,231.0 502.0,229.9 503.0,228.8 503.9,227.7 504.9,226.7 505.9,225.6 506.9,224.5 507.9,223.5 508.8,222.4 509.8,221.3 510.8,220.3 511.8,219.2 512.8,218.1 513.7,217.1 514.7,216.0 515.7,214.9 516.7,213.9 517.7,212.8 518.7,211.7 519.6,210.7 520.6,209.6 521.6,208.5 522.6,207.5 523.6,206.4 524.6,205.4 525.6,204.3 526.5,203.2 527.5,202.2 528.5,201.1 529.5,200.1 530.5,199.0 531.5,197.9 532.5,196.9 533.5,195.8 534.4,194.8 535.4,193.7 536.4,192.6 537.4,191.6 538.4,190.5 539.4,189.5 540.4,188.4 541.4,187.4 542.4,186.3 543.4,185.3 544.4,184.2 545.4,183.1 546.4,182.1 547.4,181.0 548.4,180.0 549.4,178.9 550.4,177.9 551.3,176.8 552.3,175.8 553.3,174.7 554.3,173.7 555.3,172.6 556.3,171.6 557.3,170.5 558.3,169.5 559.3,168.4 560.3,167.4 561.4,166.3 562.4,165.3 563.4,164.2 564.4,163.2 565.4,162.1 566.4,161.1 567.4,160.1 568.4,159.0 569.4,158.0 570.4,156.9 571.4,155.9 572.4,154.8 573.4,153.8 574.4,152.8 575.4,151.7 576.4,150.7 577.5,149.6 578.5,148.6 579.5,147.6 580.5,146.5 581.5,145.5 582.5,144.4 583.5,143.4 584.5,142.4 585.5,141.3 586.6,140.3 587.6,139.3 588.6,138.2 589.6,137.2 590.6,136.2 591.6,135.1 592.7,134.1 593.7,133.1 594.7,132.0 595.7,131.0 596.7,130.0 597.8,128.9 598.8,127.9 599.8,126.9 600.8,125.8 601.8,124.8 602.9,123.8 603.9,122.8 604.9,121.7 605.9,120.7 607.0,119.7 608.0,118.7 609.0,117.6 610.0,116.6 611.1,115.6 612.1,114.6 613.1,113.5 614.2,112.5 615.2,111.5 616.2,110.5 617.2,109.5 618.3,108.4 619.3,107.4 620.3,106.4 621.4,105.4 622.4,104.4 623.4,103.3 624.5,102.3 625.5,101.3 626.5,100.3 627.6,99.3 628.6,98.3 629.7,97.2 630.7,96.2 631.7,95.2 632.8,94.2 633.8,93.2 634.8,92.2 635.9,91.2 636.9,90.2 638.0,89.2 639.0,88.1 640.1,87.1 641.1,86.1 642.1,85.1 643.2,84.1 644.2,83.1 645.3,82.1 646.3,81.1 647.4,80.1 648.4,79.1 649.5,78.1 650.5,77.1 651.6,76.1 652.6,75.1 653.7,74.1 654.7,73.1 655.8,72.1 656.8,71.1 657.9,70.1 658.9,69.1 660.0,68.1 661.1,67.1 662.1,66.1 663.2,65.1 664.2,64.1 665.3,63.1 666.3,62.1 667.4,61.1 668.5,60.1 669.5,59.1 670.6,58.1 671.7,57.2 672.7,56.2 673.8,55.2 674.8,54.2 675.9,53.2 677.0,52.2 678.0,51.2 679.1,50.2 680.2,49.2 681.2,48.3 682.3,47.3 683.4,46.3 684.5,45.3 685.5,44.3 686.6,43.3 687.7,42.4 688.7,41.4 689.8,40.4 690.9,39.4 692.0,38.4 693.0,37.5 694.1,36.5 695.2,35.5 696.3,34.5 697.4,33.6 698.4,32.6 699.5,31.6 700.6,30.6 701.7,29.7 702.8,28.7 703.8,27.7 704.9,26.8 704.9,26.7"/>
<polyline points="152.4,631.3 152.5,631.3 153.5,630.2 154.4,629.1 155.4,628.0 156.4,626.9 157.3,625.9 158.3,624.8 159.3,623.7 160.2,622.6 161.2,621.5 162.2,620.5 163.1,619.4 164.1,618.3 165.1,617.2 166.0,616.1 167.0,615.0 167.9,614.0 168.9,612.9 169.9,611.8 170.8,610.7 171.8,609.6 172.8,608.5 173.7,607.5 174.7,606.4 175.6,605.3 176.6,604.2 177.6,603.1 178.5,602.0 179.5,600.9 180.4,599.9 181.4,598.8 182.4,597.7 183.3,596.6 184.3,595.5 185.2,594.4 186.2,593.3 187.1,592.2 188.1,591.2 189.1,590.1 190.0,589.0 191.0,587.9 191.9,586.8 192.9,585.7 193.8,584.6 194.8,583.5 195.8,582.4 196.7,581.4 197.7,580.3 198.6,579.2 199.6,578.1 200.5,577.0 201.5,575.9 202.4,574.8 203.4,573.7 204.3,572.6 205.3,571.5 206.3,570.4 207.2,569.3 208.2,568.3 209.1,567.2 210.1,566.1 211.0,565.0 212.0,563.9 212.9,562.8 213.9,561.7 214.8,560.6 215.8,559.5 216.7,558.4 217.7,557.3 218.6,556.2 219.6,555.1 220.5,554.0 221.5,552.9 222.4,551.8 223.4,550.7 224.3,549.6 225.3,548.6 226.2,547.5 227.2,546.4 228.1,545.3 229.1,544.2 230.0,543.1 231.0,542.0 231.9,540.9 232.9,539.8 233.8,538.7 234.8,537.6 235.7,536.5 236.7,535.4 237.5,534.4"/>
<polyline points="351.2,221.0 351.4,220.6 352.0,219.7 352.6,218.8 353.2,217.9 353.8,217.0 354.4,216.1 355.0,215.2 355.6,214.3 356.2,213.4 356.8,212.5 357.4,211.6 358.0,210.7 358.6,209.9 359.2,209.0 359.8,208.1 360.4,207.2 361.0,206.3 361.6,205.4 362.2,204.5 362.8,203.6 363.4,202.7 364.0,201.8 364.6,200.9 365.2,200.0 365.9,199.1 366.5,198.3 367.1,197.4 367.7,196.5 368.3,195.6 368.9,194.7 369.5,193.8 370.1,192.9 370.7,192.0 371.3,191.1 371.9,190.3 372.5,189.4 373.2,188.5 373.8,187.6 374.4,186.7 375.0,185.8 375.6,184.9 376.2,184.0 376.8,183.2 377.4,182.3 378.1,181.4 378.7,180.5 379.3,179.6 379.9,178.7 380.5,177.9 381.2,177.0 381.8,176.1 382.4,175.2 383.0,174.3 383.6,173.5 384.3,172.6 384.9,171.7 385.5,170.8 386.1,169.9 386.7,169.1 387.4,168.2 388.0,167.3 388.6,166.4 389.2,165.5 389.9,164.7 390.5,163.8 391.1,162.9 391.8,162.0 392.4,161.2 393.0,160.3 393.6,159.4 394.3,158.5 394.9,157.7 395.5,156.8 396.2,155.9 396.8,155.1 397.4,154.2 398.1,153.3 398.7,152.4 399.3,151.6 400.0,150.7 400.6,149.8 401.2,149.0 401.9,148.1 402.5,147.2 403.2,146.3 403.8,145.5 404.4,144.6 405.1,143.7 405.7,142.9 406.3,142.0 407.0,141.1 407.6,140.3 408.3,139.4 408.9,138.5 409.6,137.7 410.2,136.8 410.8,135.9 411.5,135.1 412.1,134.2 412.8,133.3 413.4,132.5 414.1,131.6 414.7,130.8 415.3,129.9 416.0,129.0 416.6,128.2 417.3,127.3 417.9,126.4 418.6,125.6 419.2,124.7 419.9,123.8 420.5,123.0 421.2,122.1 421.8,121.3 422.5,120.4 423.1,119.5 423.8,118.7 424.4,117.8 425.1,117.0 425.7,116.1 426.4,115.2 427.0,114.4 427.7,113.5 428.3,112.7 429.0,111.8 429.6,110.9 430.3,110.1 431.0,109.2 431.6,108.4 432.3,107.5 432.9,106.7 433.6,105.8 434.2,104.9 434.9,104.1 435.5,103.2 436.2,102.4 436.8,101.5 437.5,100.7 438.2,99.8 438.8,99.0 439.5,98.1 440.1,97.2 440.8,96.4 441.5,95.5 442.1,94.7 442.8,93.8 443.4,93.0 444.1,92.1 444.7,91.3 445.4,90.4 446.1,89.6 446.7,88.7 447.4,87.9 448.0,87.0 448.7,86.1 449.4,85.3 450.0,84.4 450.7,83.6 451.3,82.7 452.0,81.9 452.7,81.0 453.3,80.2 454.0,79.3 454.7,78.5 455.3,77.6 456.0,76.8 456.6,75.9 457.3,75.1 458.0,74.2 458.6,73.4 459.3,72.5 460.0,71.7 460.6,70.8 461.3,70.0 462.0,69.1 462.6,68.3 463.3,67.4 463.9,66.6 464.6,65.7 465.3,64.9 465.9,64.0 466.6,63.2 467.3,62.3 467.9,61.5 468.6,60.6 469.3,59.8 469.9,58.9 470.6,58.1 471.3,57.2 471.9,56.4 472.6,55.5 473.2,54.7 473.9,53.8 474.6,53.0 475.2,52.1 475.9,51.3 476.6,50.4 477.2,49.6 477.9,48.7 478.6,47.9 479.2,47.0 479.9,46.2 480.6,45.3 481.2,44.5 481.9,43.6 482.6,42.8 483.2,41.9 483.9,41.1 484.6,40.2 485.2,39.4 485.9,38.5 486.6,37.7 487.2,36.8 487.9,36.0 488.6,35.1 489.2,34.3 489.9,33.5 490.5,32.6 491.2,31.8 491.9,30.9 492.5,30.1 493.2,29.2 493.9,28.4 494.5,27.5 495.2,26.7 495.2,26.6"/>
<polyline points="152.6,529.8 152.6,529.8 153.1,528.8 153.7,527.9 154.3,527.0 154.8,526.1 155.4,525.2 156.0,524.2 156.5,523.3 157.1,522.4 157.7,521.5 158.2,520.6 158.8,519.7 159.4,518.7 160.0,517.8 160.5,516.9 161.1,516.0 161.7,515.1 162.2,514.2 162.8,513.3 163.4,512.3 163.9,511.4 164.5,510.5 165.1,509.6 165.6,508.7 166.2,507.8 166.8,506.8 167.4,505.9 167.9,505.0 168.5,504.1 169.1,503.2 169.6,502.3 170.2,501.3 170.8,500.4 171.3,499.5 171.9,498.6 172.5,497.7 173.1,496.8 173.6,495.9 174.2,494.9 174.8,494.0 175.4,493.1 175.9,492.2 176.5,491.3 177.1,490.4 177.6,489.5 178.2,488.5 178.8,487.6 179.4,486.7 179.9,485.8 180.5,484.9 181.1,484.0 181.6,483.1 182.2,482.1 182.8,481.2 183.4,480.3 183.9,479.4 184.5,478.5 185.1,477.6 185.7,476.7 186.2,475.8 186.8,474.8 187.4,473.9 188.0,473.0 188.5,472.1 189.1,471.2 189.7,470.3 190.3,469.4 190.8,468.5 191.4,467.5 192.0,466.6 192.6,465.7 193.1,464.8 193.7,463.9 194.3,463.0 194.9,462.1 195.4,461.2 196.0,460.2 196.6,459.3 197.2,458.4 197.7,457.5 198.3,456.6 198.9,455.7 199.5,454.8 200.0,453.9 200.6,453.0 201.2,452.0 201.8,451.1 202.4,450.2 202.9,449.3 203.5,448.4 204.1,447.5 204.7,446.6 205.2,445.7 205.8,444.8 206.4,443.9 207.0,442.9 207.6,442.0 208.1,441.1 208.7,440.2 209.3,439.3 209.9,438.4 210.4,437.5 211.0,436.6 211.6,435.7 212.2,434.8 212.8,433.8 213.3,432.9 213.9,432.0 214.5,431.1 215.1,430.2 215.7,429.3 216.2,428.4 216.8,427.5 217.4,426.6 218.0,425.7 218.6,424.7 219.1,423.8 219.7,422.9 220.3,422.0 220.9,421.1 221.5,420.2 222.0,419.3 222.6,418.4 223.2,417.5 223.8,416.6 224.4,415.7 224.9,414.8 225.5,413.8 226.1,412.9 226.7,412.0 227.3,411.1 227.9,410.2 228.4,409.3 229.0,408.4 229.6,407.5 230.2,406.6 230.8,405.7 231.3,404.8 231.9,403.9 232.5,403.0 233.1,402.0 233.7,401.1 234.3,400.2 234.8,399.3 235.4,398.4 236.0,397.5 236.6,396.6 237.2,395.7 237.7,394.8 238.3,393.9 238.9,393.0 239.5,392.1 240.1,391.2 240.7,390.3 241.2,389.3 241.8,388.4 242.4,387.5 243.0,386.6 243.6,385.7 244.2,384.8 244.8,383.9 245.3,383.0 245.9,382.1 246.5,381.2 247.1,380.3 247.7,379.4 248.3,378.5 248.8,377.6 249.4,376.7 250.0,375.8 250.6,374.8 251.2,373.9 251.8,373.0 251.9,372.9"/>
<polyline points="328.6,51.0 328.9,50.4 329.3,49.7 329.6,49.1 330.0,48.4 330.4,47.8 330.7,47.1 331.1,46.5 331.5,45.8 331.9,45.2 332.2,44.5 332.6,43.9 333.0,43.2 333.3,42.6 333.7,41.9 334.1,41.3 334.4,40.6 334.8,40.0 335.2,39.3 335.5,38.7 335.9,38.0 336.3,37.4 336.6,36.8 337.0,36.1 337.4,35.5 337.7,34.8 338.1,34.2 338.5,33.5 338.8,32.9 339.2,32.2 339.6,31.6 339.9,30.9 340.3,30.3 340.7,29.6 341.0,29.0 341.4,28.3 341.7,27.7 342.1,27.0 342.1,27.0"/>
<polyline points="152.4,406.3 152.6,405.9 152.9,405.2 153.3,404.5 153.6,403.9 153.9,403.2 154.3,402.5 154.6,401.9 154.9,401.2 155.3,400.5 155.6,399.8 155.9,399.2 156.3,398.5 156.6,397.8 156.9,397.1 157.3,396.5 157.6,395.8 157.9,395.1 158.3,394.4 158.6,393.8 158.9,393.1 159.3,392.4 159.6,391.8 159.9,391.1 160.3,390.4 160.6,389.7 160.9,389.1 161.2,388.4 161.6,387.7 161.9,387.0 162.2,386.4 162.6,385.7 162.9,385.0 163.2,384.3 163.6,383.6 163.9,383.0 164.2,382.3 164.5,381.6 164.9,380.9 165.2,380.3 165.5,379.6 165.8,378.9 166.2,378.2 166.5,377.6 166.8,376.9 167.2,376.2 167.5,375.5 167.8,374.9 168.1,374.2 168.5,373.5 168.8,372.8 169.1,372.1 169.4,371.5 169.8,370.8 170.1,370.1 170.4,369.4 170.7,368.7 171.1,368.1 171.4,367.4 171.7,366.7 172.0,366.0 172.4,365.4 172.7,364.7 173.0,364.0 173.3,363.3 173.6,362.6 174.0,362.0 174.3,361.3 174.6,360.6 174.9,359.9 175.3,359.2 175.6,358.6 175.9,357.9 176.2,357.2 176.5,356.5 176.9,355.8 177.2,355.2 177.5,354.5 177.8,353.8 178.2,353.1 178.5,352.4 178.8,351.8 179.1,351.1 179.4,350.4 179.8,349.7 180.1,349.0 180.4,348.4 180.7,347.7 181.0,347.0 181.4,346.3 181.7,345.6 182.0,345.0 182.3,344.3 182.6,343.6 182.9,342.9 183.3,342.2 183.6,341.5 183.9,340.9 184.2,340.2 184.5,339.5 184.9,338.8 185.2,338.1 185.5,337.5 185.8,336.8 186.1,336.1 186.4,335.4 186.8,334.7 187.1,334.0 187.4,333.4 187.7,332.7 188.0,332.0 188.4,331.3 188.7,330.6 189.0,329.9 189.3,329.3 189.6,328.6 189.9,327.9 190.3,327.2 190.6,326.5 190.9,325.8 191.2,325.2 191.5,324.5 191.8,323.8 192.2,323.1 192.5,322.4 192.8,321.7 193.1,321.1 193.4,320.4 193.7,319.7 194.0,319.0 194.4,318.3 194.7,317.6 195.0,317.0 195.3,316.3 195.6,315.6 195.9,314.9 196.3,314.2 196.6,313.5 196.9,312.9 197.2,312.2 197.5,311.5 197.8,310.8 198.1,310.1 198.5,309.4 198.8,308.8 199.1,308.1 199.4,307.4 199.7,306.7 200.0,306.0 200.3,305.3 200.7,304.7 201.0,304.0 201.3,303.3 201.6,302.6 201.9,301.9 202.2,301.2 202.5,300.5 202.9,299.9 203.2,299.2 203.5,298.5 203.8,297.8 204.1,297.1 204.4,296.4 204.7,295.8 205.1,295.1 205.4,294.4 205.7,293.7 206.0,293.0 206.3,292.3 206.6,291.6 206.9,291.0 207.3,290.3 207.6,289.6 207.9,288.9 208.2,288.2 208.5,287.5 208.8,286.9 209.1,286.2 209.5,285.5 209.8,284.8 210.1,284.1 210.4,283.4 210.7,282.7 211.0,282.1 211.3,281.4 211.6,280.7 212.0,280.0 212.3,279.3 212.6,278.6 212.9,278.0 213.2,277.3 213.5,276.6 213.8,275.9 214.2,275.2 214.5,274.5 214.8,273.8 215.1,273.2 215.4,272.5 215.7,271.8 216.0,271.1 216.4,270.4 216.7,269.7 217.0,269.1 217.3,268.4 217.6,267.7 217.9,267.0 218.2,266.3 218.6,265.6 218.9,265.0 219.2,264.3 219.5,263.6 219.8,262.9 220.1,262.2 220.4,261.5 220.8,260.8 221.1,260.2 221.4,259.5 221.7,258.8 222.0,258.1 222.3,257.4 222.7,256.7 223.0,256.1 223.3,255.4 223.6,254.7 223.9,254.0 224.2,253.3 224.5,252.6 224.9,252.0 225.2,251.3 225.5,250.6 225.8,249.9 226.1,249.2 226.4,248.5 226.8,247.9 227.1,247.2 227.4,246.5 227.7,245.8 228.0,245.1 228.3,244.4 228.7,243.8 229.0,243.1 229.3,242.4 229.6,241.7 229.9,241.0 230.2,240.3 230.6,239.7 230.9,239.0 231.2,238.3 231.5,237.6 231.8,236.9 232.1,236.2 232.5,235.6 232.8,234.9 233.1,234.2 233.4,233.5 233.7,232.8 234.1,232.1 234.4,231.5 234.7,230.8 235.0,230.1 235.3,229.4 235.6,228.7 236.0,228.1 236.3,227.4 236.6,226.7 236.9,226.0 237.2,225.3 237.6,224.6 237.9,224.0 238.2,223.3 238.5,222.6 238.8,221.9 239.2,221.2 239.5,220.6 239.8,219.9 240.1,219.2 240.4,218.5 240.8,217.8 241.1,217.2 241.4,216.5 241.7,215.8 242.1,215.1 242.4,214.4 242.7,213.8 243.0,213.1 243.3,212.4 243.4,212.3"/>
<polyline points="188.9,142.6 188.9,142.5 189.1,142.1 189.2,141.7 189.4,141.4 189.5,141.0 189.6,140.6 189.8,140.2 189.9,139.8 190.1,139.4 190.2,139.1 190.3,138.7 190.5,138.3 190.6,137.9 190.8,137.5 190.9,137.1 191.0,136.7 191.2,136.4 191.3,136.0 191.5,135.6 191.6,135.2 191.7,134.8 191.9,134.4 192.0,134.1 192.2,133.7 192.3,133.3 192.4,132.9 192.6,132.5 192.7,132.1 192.9,131.8 193.0,131.4 193.1,131.0 193.3,130.6 193.4,130.2 193.6,129.8 193.7,129.5 193.8,129.1 194.0,128.7 194.1,128.3 194.3,127.9 194.4,127.5 194.5,127.2 194.7,126.8 194.8,126.4 194.9,126.0 195.1,125.6 195.2,125.2 195.4,124.9 195.5,124.5 195.6,124.1 195.8,123.7 195.9,123.3 196.1,122.9 196.2,122.6 196.3,122.2 196.5,121.8 196.6,121.4 196.8,121.0 196.9,120.6 197.0,120.3 197.2,119.9 197.3,119.5 197.5,119.1 197.6,118.7 197.7,118.3 197.9,118.0 198.0,117.6 198.2,117.2 198.3,116.8 198.4,116.4 198.6,116.0 198.7,115.7 198.9,115.3 199.0,114.9 199.1,114.5 199.3,114.1 199.4,113.7 199.6,113.3 199.7,113.0 199.8,112.6 200.0,112.2 200.1,111.8 200.3,111.4 200.4,111.0 200.5,110.7 200.7,110.3 200.8,109.9 201.0,109.5 201.1,109.1 201.2,108.7 201.4,108.4 201.5,108.0 201.7,107.6 201.8,107.2 201.9,106.8 202.1,106.4 202.2,106.1 202.4,105.7 202.5,105.3 202.6,104.9 202.8,104.5 202.9,104.1 203.1,103.8 203.2,103.4 203.3,103.0 203.5,102.6 203.6,102.2 203.8,101.8 203.9,101.5 204.0,101.1 204.2,100.7 204.3,100.3 204.4,99.9 204.6,99.5 204.7,99.2 204.9,98.8 205.0,98.4 205.1,98.0 205.3,97.6 205.4,97.2 205.6,96.9 205.7,96.5 205.8,96.1 206.0,95.7 206.1,95.3 206.3,94.9 206.4,94.5 206.5,94.2 206.7,93.8 206.8,93.4 207.0,93.0 207.1,92.6 207.2,92.2 207.4,91.9 207.5,91.5 207.7,91.1 207.8,90.7 207.9,90.3 208.1,89.9 208.2,89.6 208.4,89.2 208.5,88.8 208.6,88.4 208.8,88.0 208.9,87.6 209.1,87.3 209.2,86.9 209.3,86.5 209.5,86.1 209.6,85.7 209.8,85.3 209.9,85.0 210.0,84.6 210.2,84.2 210.3,83.8 210.5,83.4 210.6,83.0 210.7,82.7 210.9,82.3 211.0,81.9 211.2,81.5 211.3,81.1 211.4,80.7 211.6,80.4 211.7,80.0 211.9,79.6 212.0,79.2 212.1,78.8 212.3,78.4 212.4,78.1 212.6,77.7 212.7,77.3 212.8,76.9 213.0,76.5 213.1,76.1 213.2,75.7 213.4,75.4 213.5,75.0 213.7,74.6 213.8,74.2 213.9,73.8 214.1,73.4 214.2,73.1 214.4,72.7 214.5,72.3 214.6,71.9 214.8,71.5 214.9,71.1 215.1,70.8 215.2,70.4 215.3,70.0 215.5,69.6 215.6,69.2 215.8,68.8 215.9,68.5 216.0,68.1 216.2,67.7 216.3,67.3 216.5,66.9 216.6,66.5 216.7,66.2 216.9,65.8 217.0,65.4 217.2,65.0 217.3,64.6 217.4,64.2 217.6,63.9 217.7,63.5 217.9,63.1 218.0,62.7 218.1,62.3 218.3,61.9 218.4,61.6 218.6,61.2 218.7,60.8 218.8,60.4 219.0,60.0 219.1,59.6 219.3,59.2 219.4,58.9 219.5,58.5 219.7,58.1 219.8,57.7 219.9,57.3 220.1,56.9 220.2,56.6 220.4,56.2 220.5,55.8 220.6,55.4 220.8,55.0 220.9,54.6 221.1,54.3 221.2,53.9 221.3,53.5 221.5,53.1 221.6,52.7 221.8,52.3 221.9,52.0 222.0,51.6 222.2,51.2 222.3,50.8 222.5,50.4 222.6,50.0 222.7,49.7 222.9,49.3 223.0,48.9 223.2,48.5 223.3,48.1 223.4,47.7 223.6,47.3 223.7,47.0 223.9,46.6 224.0,46.2 224.1,45.8 224.3,45.4 224.4,45.0 224.5,44.7 224.7,44.3 224.8,43.9 225.0,43.5 225.1,43.1 225.2,42.7 225.4,42.4 225.5,42.0 225.7,41.6 225.8,41.2 225.9,40.8 226.1,40.4 226.2,40.1 226.4,39.7 226.5,39.3 226.6,38.9 226.8,38.5 226.9,38.1 227.1,37.8 227.2,37.4 227.3,37.0 227.5,36.6 227.6,36.2 227.8,35.8 227.9,35.4 228.0,35.1 228.2,34.7 228.3,34.3 228.4,33.9 228.6,33.5 228.7,33.1 228.9,32.8 229.0,32.4 229.1,32.0 229.3,31.6 229.4,31.2 229.6,30.8 229.7,30.5 229.8,30.1 230.0,29.7 230.1,29.3 230.3,28.9 230.4,28.5 230.5,28.2 230.7,27.8 230.8,27.4 231.0,27.0 231.1,26.6 231.1,26.6"/>
</g></g>
<defs><filter id="thin" x="-5%" y="-5%" width="110%" height="110%"><feMorphology operator="erode" radius="0.00"/></filter></defs>
<g font-family="&quot;Liberation Sans&quot;, sans-serif" font-size="58.0" fill="#000" text-anchor="middle">
<text transform="translate(138.90,275.80) rotate(-71.24) scale(0.880,1)" x="0.00 26.20 52.41 86.09 119.77" y="19.95 19.95 19.95 19.95 19.95">0.900</text>
<text transform="translate(256.00,176.20) rotate(-62.54) scale(0.880,1)" x="0.00 26.48 52.95 86.98 121.02" y="19.95 19.95 19.95 19.95 19.95">0.600</text>
<text transform="translate(267.05,338.90) rotate(-57.62) scale(0.880,1)" x="0.00 26.44 52.87 86.86 120.84" y="19.95 19.95 19.95 19.95 19.95">0.300</text>
<text transform="translate(259.80,501.70) rotate(-50.22) scale(0.880,1)" x="0.00 26.50 52.99 87.05 121.11" y="19.95 19.95 19.95 19.95 19.95">0.000</text>
<text transform="translate(573.90,362.70) rotate(-42.26) scale(0.880,1)" x="-31.23 0.00 26.51 53.01 87.08 121.15" y="21.95 19.95 19.95 19.95 19.95 19.95">-0.300</text>
<text transform="translate(1046.80,225.30) rotate(-41.08) scale(0.880,1)" x="-31.21 0.00 26.48 52.97 87.01 121.05" y="21.95 19.95 19.95 19.95 19.95 19.95">-0.600</text>
<text transform="translate(1295.70,414.90) rotate(-48.60) scale(0.880,1)" x="-31.35 0.00 26.62 53.23 87.44 121.65" y="21.95 19.95 19.95 19.95 19.95 19.95">-0.900</text>
</g>
<rect x="152.40" y="26.60" width="1185.00" height="859.50" fill="none" stroke="#000" stroke-width="4.60"/>
<g stroke="#000"><line x1="191.90" y1="886.10" x2="191.90" y2="876.10" stroke-width="4.2"/><line x1="231.40" y1="886.10" x2="231.40" y2="876.10" stroke-width="4.2"/><line x1="270.90" y1="886.10" x2="270.90" y2="876.10" stroke-width="4.2"/><line x1="310.40" y1="886.10" x2="310.40" y2="876.10" stroke-width="4.2"/><line x1="349.90" y1="886.10" x2="349.90" y2="867.60" stroke-width="4.0"/><line x1="389.40" y1="886.10" x2="389.40" y2="876.10" stroke-width="4.2"/><line x1="428.90" y1="886.10" x2="428.90" y2="876.10" stroke-width="4.2"/><line x1="468.40" y1="886.10" x2="468.40" y2="876.10" stroke-width="4.2"/><line x1="507.90" y1="886.10" x2="507.90" y2="876.10" stroke-width="4.2"/><line x1="547.40" y1="886.10" x2="547.40" y2="867.60" stroke-width="4.0"/><line x1="586.90" y1="886.10" x2="586.90" y2="876.10" stroke-width="4.2"/><line x1="626.40" y1="886.10" x2="626.40" y2="876.10" stroke-width="4.2"/><line x1="665.90" y1="886.10" x2="665.90" y2="876.10" stroke-width="4.2"/><line x1="705.40" y1="886.10" x2="705.40" y2="876.10" stroke-width="4.2"/><line x1="744.90" y1="886.10" x2="744.90" y2="867.60" stroke-width="4.0"/><line x1="784.40" y1="886.10" x2="784.40" y2="876.10" stroke-width="4.2"/><line x1="823.90" y1="886.10" x2="823.90" y2="876.10" stroke-width="4.2"/><line x1="863.40" y1="886.10" x2="863.40" y2="876.10" stroke-width="4.2"/><line x1="902.90" y1="886.10" x2="902.90" y2="876.10" stroke-width="4.2"/><line x1="942.40" y1="886.10" x2="942.40" y2="867.60" stroke-width="4.0"/><line x1="981.90" y1="886.10" x2="981.90" y2="876.10" stroke-width="4.2"/><line x1="1021.40" y1="886.10" x2="1021.40" y2="876.10" stroke-width="4.2"/><line x1="1060.90" y1="886.10" x2="1060.90" y2="876.10" stroke-width="4.2"/><line x1="1100.40" y1="886.10" x2="1100.40" y2="876.10" stroke-width="4.2"/><line x1="1139.90" y1="886.10" x2="1139.90" y2="867.60" stroke-width="4.0"/><line x1="1179.40" y1="886.10" x2="1179.40" y2="876.10" stroke-width="4.2"/><line x1="1218.90" y1="886.10" x2="1218.90" y2="876.10" stroke-width="4.2"/><line x1="1258.40" y1="886.10" x2="1258.40" y2="876.10" stroke-width="4.2"/><line x1="1297.90" y1="886.10" x2="1297.90" y2="876.10" stroke-width="4.2"/><line x1="152.40" y1="843.12" x2="161.40" y2="843.12" stroke-width="4.2"/><line x1="152.40" y1="800.15" x2="161.40" y2="800.15" stroke-width="4.2"/><line x1="152.40" y1="757.17" x2="161.40" y2="757.17" stroke-width="4.2"/><line x1="152.40" y1="714.20" x2="169.90" y2="714.20" stroke-width="4.0"/><line x1="152.40" y1="671.23" x2="161.40" y2="671.23" stroke-width="4.2"/><line x1="152.40" y1="628.25" x2="161.40" y2="628.25" stroke-width="4.2"/><line x1="152.40" y1="585.27" x2="161.40" y2="585.27" stroke-width="4.2"/><line x1="152.40" y1="542.30" x2="169.90" y2="542.30" stroke-width="4.0"/><line x1="152.40" y1="499.32" x2="161.40" y2="499.32" stroke-width="4.2"/><line x1="152.40" y1="456.35" x2="161.40" y2="456.35" stroke-width="4.2"/><line x1="152.40" y1="413.38" x2="161.40" y2="413.38" stroke-width="4.2"/><line x1="152.40" y1="370.40" x2="169.90" y2="370.40" stroke-width="4.0"/><line x1="152.40" y1="327.42" x2="161.40" y2="327.42" stroke-width="4.2"/><line x1="152.40" y1="284.45" x2="161.40" y2="284.45" stroke-width="4.2"/><line x1="152.40" y1="241.48" x2="161.40" y2="241.48" stroke-width="4.2"/><line x1="152.40" y1="198.50" x2="169.90" y2="198.50" stroke-width="4.0"/><line x1="152.40" y1="155.52" x2="161.40" y2="155.52" stroke-width="4.2"/><line x1="152.40" y1="112.55" x2="161.40" y2="112.55" stroke-width="4.2"/><line x1="152.40" y1="69.57" x2="161.40" y2="69.57" stroke-width="4.2"/></g>
<g font-family="&quot;Liberation Serif&quot;, serif" font-size="56.5" fill="#000" text-anchor="middle"><text x="117.26 138.65 160.04 187.54" y="943">0.50</text><text x="314.76 336.15 357.54 385.04" y="943">0.75</text><text x="512.26 533.65 555.04 582.54" y="943">1.00</text><text x="709.76 731.15 752.54 780.04" y="943">1.25</text><text x="907.26 928.65 950.04 977.54" y="943">1.50</text><text x="1104.76 1126.15 1147.54 1175.04" y="943">1.75</text><text x="1302.26 1323.65 1345.04 1372.54" y="943">2.00</text><text x="73.52 94.91 116.30" y="905.80">0.0</text><text x="73.52 94.91 116.30" y="733.90">0.2</text><text x="73.52 94.91 116.30" y="562.00">0.4</text><text x="73.52 94.91 116.30" y="390.10">0.6</text><text x="73.52 94.91 116.30" y="218.20">0.8</text><text x="73.52 94.91 116.30" y="46.30">1.0</text></g>
<text transform="translate(744.3,996.3) scale(1.12,1)" x="0" y="6.97" font-family="&quot;Liberation Serif&quot;, serif" font-style="italic" font-size="54" text-anchor="middle">&#951;</text>
<text transform="translate(24.3,455.3) rotate(-90) scale(1.077,0.91)" x="-1.36" y="13.40" font-family="&quot;Liberation Serif&quot;, serif" font-style="italic" font-size="58" text-anchor="middle">&#945;</text>
</g></svg></body></html>
